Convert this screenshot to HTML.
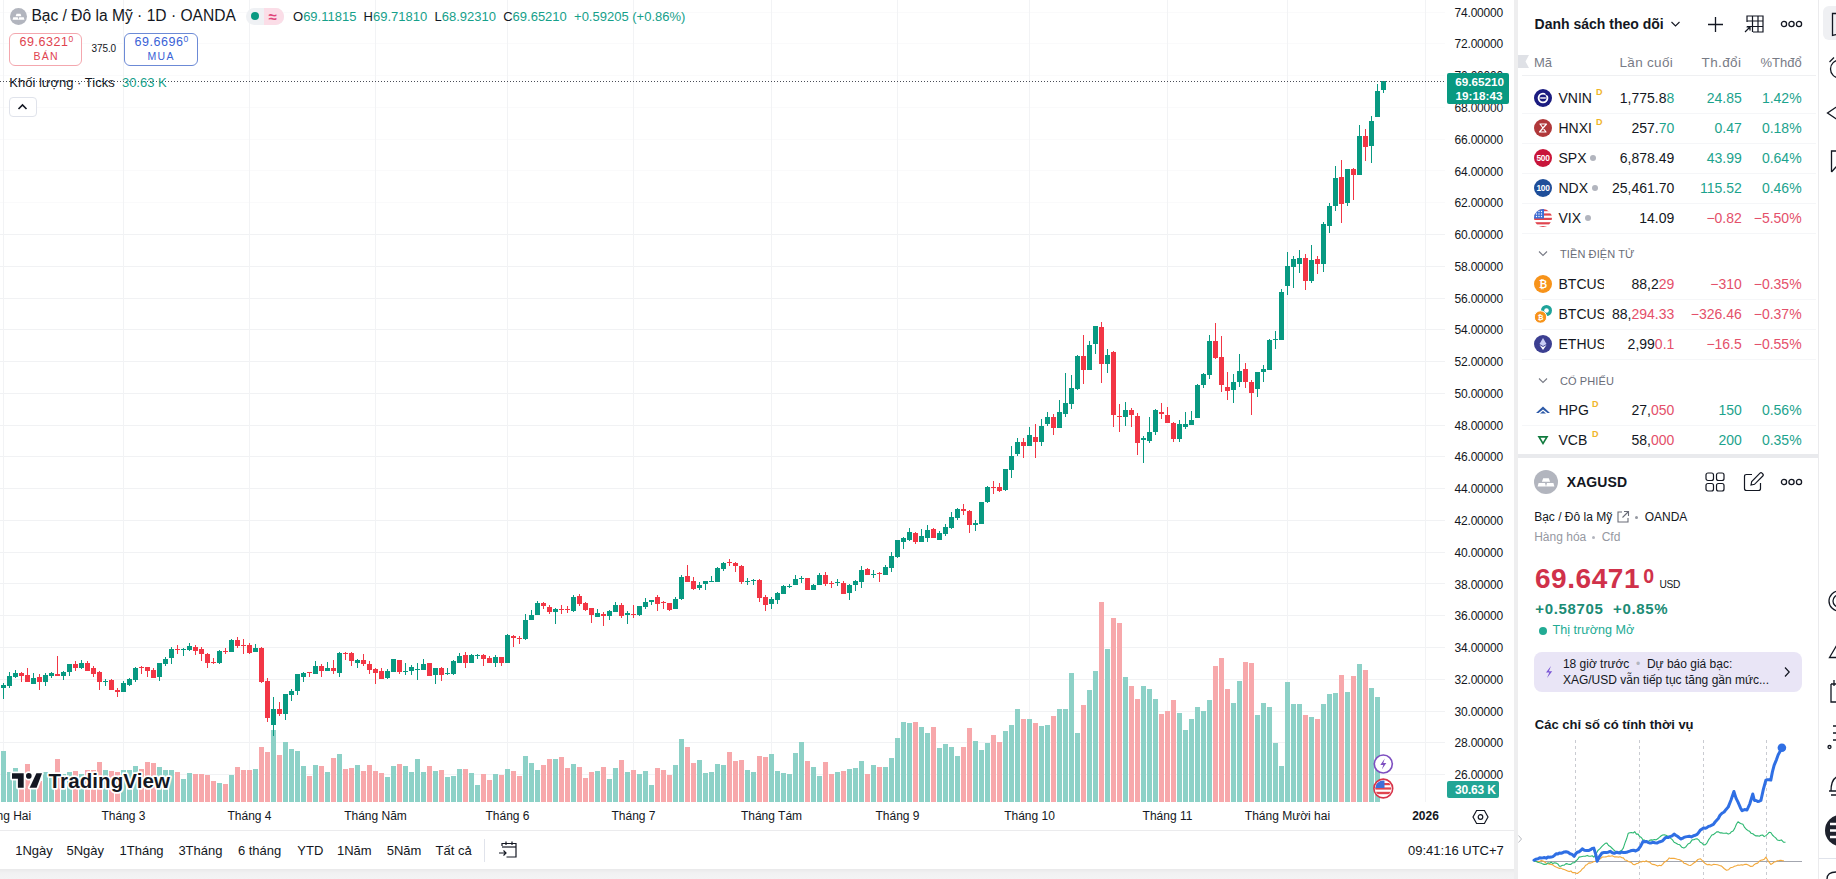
<!DOCTYPE html>
<html lang="vi"><head><meta charset="utf-8"><title>XAGUSD</title>
<style>
*{box-sizing:border-box;margin:0;padding:0}
html,body{width:1836px;height:879px;overflow:hidden;background:#fff}
body{font-family:"Liberation Sans",Arial,sans-serif;color:#131722}
#root{position:relative;width:1836px;height:879px;overflow:hidden;background:#fff}
.abs{position:absolute}
.t{position:absolute;white-space:nowrap;line-height:1}
#paxis{position:absolute;left:1445px;top:0;width:69px;height:802px}
.pl{position:absolute;right:11px;font-size:12px;line-height:14px;color:#131722;letter-spacing:-0.2px}
#taxis{position:absolute;left:0;top:802px;width:1445px;height:28px}
.tl{position:absolute;top:7.3px;width:120px;text-align:center;font-size:12px;line-height:14px;color:#131722}
.up{color:#15a08a}.dn{color:#e4506a}
.bx sup{font-size:8.5px;vertical-align:top;position:relative;top:-1px;letter-spacing:0}

</style></head><body>
<div id="root">
<svg class="abs" style="left:0;top:0" width="1445" height="802" viewBox="0 0 1445 802">
<g shape-rendering="crispEdges">
<line x1="0" x2="1445" y1="12.5" y2="12.5" stroke="#fafafb" stroke-width="1"/>
<line x1="0" x2="1445" y1="43.5" y2="43.5" stroke="#fafafb" stroke-width="1"/>
<line x1="0" x2="1445" y1="75.5" y2="75.5" stroke="#fafafb" stroke-width="1"/>
<line x1="0" x2="1445" y1="107.5" y2="107.5" stroke="#fafafb" stroke-width="1"/>
<line x1="0" x2="1445" y1="139.5" y2="139.5" stroke="#fafafb" stroke-width="1"/>
<line x1="0" x2="1445" y1="170.5" y2="170.5" stroke="#fafafb" stroke-width="1"/>
<line x1="0" x2="1445" y1="202.5" y2="202.5" stroke="#fafafb" stroke-width="1"/>
<line x1="0" x2="1445" y1="234.5" y2="234.5" stroke="#f1f2f4" stroke-width="1"/>
<line x1="0" x2="1445" y1="266.5" y2="266.5" stroke="#f1f2f4" stroke-width="1"/>
<line x1="0" x2="1445" y1="298.5" y2="298.5" stroke="#f1f2f4" stroke-width="1"/>
<line x1="0" x2="1445" y1="329.5" y2="329.5" stroke="#f1f2f4" stroke-width="1"/>
<line x1="0" x2="1445" y1="361.5" y2="361.5" stroke="#f1f2f4" stroke-width="1"/>
<line x1="0" x2="1445" y1="393.5" y2="393.5" stroke="#f1f2f4" stroke-width="1"/>
<line x1="0" x2="1445" y1="425.5" y2="425.5" stroke="#f1f2f4" stroke-width="1"/>
<line x1="0" x2="1445" y1="456.5" y2="456.5" stroke="#f1f2f4" stroke-width="1"/>
<line x1="0" x2="1445" y1="488.5" y2="488.5" stroke="#f1f2f4" stroke-width="1"/>
<line x1="0" x2="1445" y1="520.5" y2="520.5" stroke="#f1f2f4" stroke-width="1"/>
<line x1="0" x2="1445" y1="552.5" y2="552.5" stroke="#f1f2f4" stroke-width="1"/>
<line x1="0" x2="1445" y1="583.5" y2="583.5" stroke="#f1f2f4" stroke-width="1"/>
<line x1="0" x2="1445" y1="615.5" y2="615.5" stroke="#f1f2f4" stroke-width="1"/>
<line x1="0" x2="1445" y1="647.5" y2="647.5" stroke="#f1f2f4" stroke-width="1"/>
<line x1="0" x2="1445" y1="679.5" y2="679.5" stroke="#f1f2f4" stroke-width="1"/>
<line x1="0" x2="1445" y1="711.5" y2="711.5" stroke="#f1f2f4" stroke-width="1"/>
<line x1="0" x2="1445" y1="742.5" y2="742.5" stroke="#f1f2f4" stroke-width="1"/>
<line x1="0" x2="1445" y1="774.5" y2="774.5" stroke="#f1f2f4" stroke-width="1"/>
<line x1="3.5" x2="3.5" y1="0" y2="802" stroke="#f2f3f5" stroke-width="1"/>
<line x1="123.5" x2="123.5" y1="0" y2="802" stroke="#f2f3f5" stroke-width="1"/>
<line x1="249.5" x2="249.5" y1="0" y2="802" stroke="#f2f3f5" stroke-width="1"/>
<line x1="375.5" x2="375.5" y1="0" y2="802" stroke="#f2f3f5" stroke-width="1"/>
<line x1="507.5" x2="507.5" y1="0" y2="802" stroke="#f2f3f5" stroke-width="1"/>
<line x1="633.5" x2="633.5" y1="0" y2="802" stroke="#f2f3f5" stroke-width="1"/>
<line x1="771.5" x2="771.5" y1="0" y2="802" stroke="#f2f3f5" stroke-width="1"/>
<line x1="897.5" x2="897.5" y1="0" y2="802" stroke="#f2f3f5" stroke-width="1"/>
<line x1="1029.5" x2="1029.5" y1="0" y2="802" stroke="#f2f3f5" stroke-width="1"/>
<line x1="1167.5" x2="1167.5" y1="0" y2="802" stroke="#f2f3f5" stroke-width="1"/>
<line x1="1287.5" x2="1287.5" y1="0" y2="802" stroke="#f2f3f5" stroke-width="1"/>
<line x1="1425.5" x2="1425.5" y1="0" y2="802" stroke="#f2f3f5" stroke-width="1"/>
<rect x="1" y="751" width="5" height="51" fill="#8dd1c7"/>
<rect x="7" y="772" width="5" height="30" fill="#8dd1c7"/>
<rect x="13" y="768" width="5" height="34" fill="#8dd1c7"/>
<rect x="19" y="785" width="5" height="17" fill="#f7a8ab"/>
<rect x="25" y="764" width="5" height="38" fill="#f7a8ab"/>
<rect x="31" y="780" width="5" height="22" fill="#8dd1c7"/>
<rect x="37" y="781" width="5" height="21" fill="#f7a8ab"/>
<rect x="43" y="772" width="5" height="30" fill="#8dd1c7"/>
<rect x="49" y="775" width="5" height="27" fill="#8dd1c7"/>
<rect x="55" y="759" width="5" height="43" fill="#f7a8ab"/>
<rect x="61" y="774" width="5" height="28" fill="#8dd1c7"/>
<rect x="67" y="772" width="5" height="30" fill="#8dd1c7"/>
<rect x="73" y="771" width="5" height="31" fill="#f7a8ab"/>
<rect x="79" y="774" width="5" height="28" fill="#8dd1c7"/>
<rect x="85" y="770" width="5" height="32" fill="#f7a8ab"/>
<rect x="91" y="770" width="5" height="32" fill="#f7a8ab"/>
<rect x="97" y="762" width="5" height="40" fill="#f7a8ab"/>
<rect x="103" y="770" width="5" height="32" fill="#8dd1c7"/>
<rect x="109" y="771" width="5" height="31" fill="#f7a8ab"/>
<rect x="115" y="772" width="5" height="30" fill="#f7a8ab"/>
<rect x="121" y="770" width="5" height="32" fill="#8dd1c7"/>
<rect x="127" y="770" width="5" height="32" fill="#8dd1c7"/>
<rect x="133" y="766" width="5" height="36" fill="#8dd1c7"/>
<rect x="139" y="769" width="5" height="33" fill="#f7a8ab"/>
<rect x="145" y="762" width="5" height="40" fill="#f7a8ab"/>
<rect x="151" y="763" width="5" height="39" fill="#f7a8ab"/>
<rect x="157" y="767" width="5" height="35" fill="#8dd1c7"/>
<rect x="163" y="770" width="5" height="32" fill="#8dd1c7"/>
<rect x="169" y="770" width="5" height="32" fill="#8dd1c7"/>
<rect x="175" y="772" width="5" height="30" fill="#f7a8ab"/>
<rect x="181" y="779" width="5" height="23" fill="#8dd1c7"/>
<rect x="187" y="773" width="5" height="29" fill="#8dd1c7"/>
<rect x="193" y="774" width="5" height="28" fill="#f7a8ab"/>
<rect x="199" y="774" width="5" height="28" fill="#f7a8ab"/>
<rect x="205" y="775" width="5" height="27" fill="#f7a8ab"/>
<rect x="211" y="781" width="5" height="21" fill="#f7a8ab"/>
<rect x="217" y="783" width="5" height="19" fill="#8dd1c7"/>
<rect x="223" y="784" width="5" height="18" fill="#f7a8ab"/>
<rect x="229" y="775" width="5" height="27" fill="#8dd1c7"/>
<rect x="235" y="767" width="5" height="35" fill="#f7a8ab"/>
<rect x="241" y="770" width="5" height="32" fill="#f7a8ab"/>
<rect x="247" y="770" width="5" height="32" fill="#f7a8ab"/>
<rect x="253" y="769" width="5" height="33" fill="#8dd1c7"/>
<rect x="259" y="747" width="5" height="55" fill="#f7a8ab"/>
<rect x="265" y="752" width="5" height="50" fill="#f7a8ab"/>
<rect x="271" y="730" width="5" height="72" fill="#8dd1c7"/>
<rect x="277" y="755" width="5" height="47" fill="#f7a8ab"/>
<rect x="283" y="742" width="5" height="60" fill="#8dd1c7"/>
<rect x="289" y="749" width="5" height="53" fill="#8dd1c7"/>
<rect x="295" y="751" width="5" height="51" fill="#8dd1c7"/>
<rect x="301" y="766" width="5" height="36" fill="#8dd1c7"/>
<rect x="307" y="776" width="5" height="26" fill="#f7a8ab"/>
<rect x="313" y="765" width="5" height="37" fill="#8dd1c7"/>
<rect x="319" y="766" width="5" height="36" fill="#f7a8ab"/>
<rect x="325" y="772" width="5" height="30" fill="#8dd1c7"/>
<rect x="331" y="758" width="5" height="44" fill="#f7a8ab"/>
<rect x="337" y="754" width="5" height="48" fill="#8dd1c7"/>
<rect x="343" y="769" width="5" height="33" fill="#f7a8ab"/>
<rect x="349" y="768" width="5" height="34" fill="#f7a8ab"/>
<rect x="355" y="765" width="5" height="37" fill="#8dd1c7"/>
<rect x="361" y="771" width="5" height="31" fill="#f7a8ab"/>
<rect x="367" y="765" width="5" height="37" fill="#f7a8ab"/>
<rect x="373" y="771" width="5" height="31" fill="#f7a8ab"/>
<rect x="379" y="773" width="5" height="29" fill="#f7a8ab"/>
<rect x="385" y="777" width="5" height="25" fill="#8dd1c7"/>
<rect x="391" y="766" width="5" height="36" fill="#8dd1c7"/>
<rect x="397" y="764" width="5" height="38" fill="#f7a8ab"/>
<rect x="403" y="766" width="5" height="36" fill="#8dd1c7"/>
<rect x="409" y="772" width="5" height="30" fill="#8dd1c7"/>
<rect x="415" y="759" width="5" height="43" fill="#8dd1c7"/>
<rect x="421" y="772" width="5" height="30" fill="#8dd1c7"/>
<rect x="427" y="766" width="5" height="36" fill="#f7a8ab"/>
<rect x="433" y="771" width="5" height="31" fill="#8dd1c7"/>
<rect x="439" y="770" width="5" height="32" fill="#f7a8ab"/>
<rect x="445" y="777" width="5" height="25" fill="#8dd1c7"/>
<rect x="451" y="776" width="5" height="26" fill="#8dd1c7"/>
<rect x="457" y="769" width="5" height="33" fill="#8dd1c7"/>
<rect x="463" y="769" width="5" height="33" fill="#f7a8ab"/>
<rect x="469" y="773" width="5" height="29" fill="#8dd1c7"/>
<rect x="475" y="785" width="5" height="17" fill="#8dd1c7"/>
<rect x="481" y="774" width="5" height="28" fill="#f7a8ab"/>
<rect x="487" y="780" width="5" height="22" fill="#f7a8ab"/>
<rect x="493" y="774" width="5" height="28" fill="#8dd1c7"/>
<rect x="499" y="775" width="5" height="27" fill="#f7a8ab"/>
<rect x="505" y="769" width="5" height="33" fill="#8dd1c7"/>
<rect x="511" y="771" width="5" height="31" fill="#f7a8ab"/>
<rect x="517" y="776" width="5" height="26" fill="#f7a8ab"/>
<rect x="523" y="756" width="5" height="46" fill="#8dd1c7"/>
<rect x="529" y="763" width="5" height="39" fill="#8dd1c7"/>
<rect x="535" y="770" width="5" height="32" fill="#8dd1c7"/>
<rect x="541" y="765" width="5" height="37" fill="#f7a8ab"/>
<rect x="547" y="759" width="5" height="43" fill="#f7a8ab"/>
<rect x="553" y="759" width="5" height="43" fill="#8dd1c7"/>
<rect x="559" y="757" width="5" height="45" fill="#f7a8ab"/>
<rect x="565" y="768" width="5" height="34" fill="#f7a8ab"/>
<rect x="571" y="764" width="5" height="38" fill="#8dd1c7"/>
<rect x="577" y="767" width="5" height="35" fill="#f7a8ab"/>
<rect x="583" y="778" width="5" height="24" fill="#f7a8ab"/>
<rect x="589" y="772" width="5" height="30" fill="#f7a8ab"/>
<rect x="595" y="771" width="5" height="31" fill="#8dd1c7"/>
<rect x="601" y="767" width="5" height="35" fill="#f7a8ab"/>
<rect x="607" y="779" width="5" height="23" fill="#8dd1c7"/>
<rect x="613" y="768" width="5" height="34" fill="#8dd1c7"/>
<rect x="619" y="760" width="5" height="42" fill="#f7a8ab"/>
<rect x="625" y="772" width="5" height="30" fill="#8dd1c7"/>
<rect x="631" y="770" width="5" height="32" fill="#f7a8ab"/>
<rect x="637" y="774" width="5" height="28" fill="#8dd1c7"/>
<rect x="643" y="771" width="5" height="31" fill="#8dd1c7"/>
<rect x="649" y="785" width="5" height="17" fill="#8dd1c7"/>
<rect x="655" y="768" width="5" height="34" fill="#f7a8ab"/>
<rect x="661" y="770" width="5" height="32" fill="#f7a8ab"/>
<rect x="667" y="775" width="5" height="27" fill="#f7a8ab"/>
<rect x="673" y="765" width="5" height="37" fill="#8dd1c7"/>
<rect x="679" y="739" width="5" height="63" fill="#8dd1c7"/>
<rect x="685" y="747" width="5" height="55" fill="#f7a8ab"/>
<rect x="691" y="763" width="5" height="39" fill="#f7a8ab"/>
<rect x="697" y="760" width="5" height="42" fill="#8dd1c7"/>
<rect x="703" y="773" width="5" height="29" fill="#8dd1c7"/>
<rect x="709" y="772" width="5" height="30" fill="#8dd1c7"/>
<rect x="715" y="764" width="5" height="38" fill="#8dd1c7"/>
<rect x="721" y="765" width="5" height="37" fill="#8dd1c7"/>
<rect x="727" y="752" width="5" height="50" fill="#f7a8ab"/>
<rect x="733" y="761" width="5" height="41" fill="#f7a8ab"/>
<rect x="739" y="760" width="5" height="42" fill="#f7a8ab"/>
<rect x="745" y="770" width="5" height="32" fill="#8dd1c7"/>
<rect x="751" y="772" width="5" height="30" fill="#8dd1c7"/>
<rect x="757" y="756" width="5" height="46" fill="#f7a8ab"/>
<rect x="763" y="757" width="5" height="45" fill="#f7a8ab"/>
<rect x="769" y="754" width="5" height="48" fill="#8dd1c7"/>
<rect x="775" y="771" width="5" height="31" fill="#8dd1c7"/>
<rect x="781" y="773" width="5" height="29" fill="#8dd1c7"/>
<rect x="787" y="774" width="5" height="28" fill="#8dd1c7"/>
<rect x="793" y="753" width="5" height="49" fill="#8dd1c7"/>
<rect x="799" y="742" width="5" height="60" fill="#8dd1c7"/>
<rect x="805" y="761" width="5" height="41" fill="#f7a8ab"/>
<rect x="811" y="767" width="5" height="35" fill="#8dd1c7"/>
<rect x="817" y="776" width="5" height="26" fill="#8dd1c7"/>
<rect x="823" y="762" width="5" height="40" fill="#f7a8ab"/>
<rect x="829" y="774" width="5" height="28" fill="#f7a8ab"/>
<rect x="835" y="772" width="5" height="30" fill="#8dd1c7"/>
<rect x="841" y="771" width="5" height="31" fill="#f7a8ab"/>
<rect x="847" y="769" width="5" height="33" fill="#8dd1c7"/>
<rect x="853" y="768" width="5" height="34" fill="#8dd1c7"/>
<rect x="859" y="761" width="5" height="41" fill="#8dd1c7"/>
<rect x="865" y="774" width="5" height="28" fill="#f7a8ab"/>
<rect x="871" y="765" width="5" height="37" fill="#8dd1c7"/>
<rect x="877" y="767" width="5" height="35" fill="#f7a8ab"/>
<rect x="883" y="767" width="5" height="35" fill="#8dd1c7"/>
<rect x="889" y="758" width="5" height="44" fill="#8dd1c7"/>
<rect x="895" y="738" width="5" height="64" fill="#8dd1c7"/>
<rect x="901" y="722" width="5" height="80" fill="#8dd1c7"/>
<rect x="907" y="723" width="5" height="79" fill="#8dd1c7"/>
<rect x="913" y="722" width="5" height="80" fill="#f7a8ab"/>
<rect x="919" y="727" width="5" height="75" fill="#8dd1c7"/>
<rect x="925" y="733" width="5" height="69" fill="#8dd1c7"/>
<rect x="931" y="727" width="5" height="75" fill="#f7a8ab"/>
<rect x="937" y="748" width="5" height="54" fill="#8dd1c7"/>
<rect x="943" y="744" width="5" height="58" fill="#8dd1c7"/>
<rect x="949" y="747" width="5" height="55" fill="#8dd1c7"/>
<rect x="955" y="756" width="5" height="46" fill="#8dd1c7"/>
<rect x="961" y="747" width="5" height="55" fill="#f7a8ab"/>
<rect x="967" y="728" width="5" height="74" fill="#f7a8ab"/>
<rect x="973" y="741" width="5" height="61" fill="#8dd1c7"/>
<rect x="979" y="750" width="5" height="52" fill="#8dd1c7"/>
<rect x="985" y="743" width="5" height="59" fill="#8dd1c7"/>
<rect x="991" y="735" width="5" height="67" fill="#f7a8ab"/>
<rect x="997" y="742" width="5" height="60" fill="#f7a8ab"/>
<rect x="1003" y="731" width="5" height="71" fill="#8dd1c7"/>
<rect x="1009" y="725" width="5" height="77" fill="#8dd1c7"/>
<rect x="1015" y="709" width="5" height="93" fill="#8dd1c7"/>
<rect x="1021" y="719" width="5" height="83" fill="#f7a8ab"/>
<rect x="1027" y="719" width="5" height="83" fill="#8dd1c7"/>
<rect x="1033" y="723" width="5" height="79" fill="#f7a8ab"/>
<rect x="1039" y="726" width="5" height="76" fill="#8dd1c7"/>
<rect x="1045" y="725" width="5" height="77" fill="#8dd1c7"/>
<rect x="1051" y="716" width="5" height="86" fill="#f7a8ab"/>
<rect x="1057" y="709" width="5" height="93" fill="#8dd1c7"/>
<rect x="1063" y="709" width="5" height="93" fill="#8dd1c7"/>
<rect x="1069" y="673" width="5" height="129" fill="#8dd1c7"/>
<rect x="1075" y="733" width="5" height="69" fill="#8dd1c7"/>
<rect x="1081" y="705" width="5" height="97" fill="#f7a8ab"/>
<rect x="1087" y="690" width="5" height="112" fill="#8dd1c7"/>
<rect x="1093" y="671" width="5" height="131" fill="#8dd1c7"/>
<rect x="1099" y="602" width="5" height="200" fill="#f7a8ab"/>
<rect x="1105" y="649" width="5" height="153" fill="#8dd1c7"/>
<rect x="1111" y="618" width="5" height="184" fill="#f7a8ab"/>
<rect x="1117" y="623" width="5" height="179" fill="#f7a8ab"/>
<rect x="1123" y="677" width="5" height="125" fill="#8dd1c7"/>
<rect x="1129" y="686" width="5" height="116" fill="#f7a8ab"/>
<rect x="1135" y="699" width="5" height="103" fill="#f7a8ab"/>
<rect x="1141" y="686" width="5" height="116" fill="#8dd1c7"/>
<rect x="1147" y="689" width="5" height="113" fill="#8dd1c7"/>
<rect x="1153" y="699" width="5" height="103" fill="#8dd1c7"/>
<rect x="1159" y="714" width="5" height="88" fill="#f7a8ab"/>
<rect x="1165" y="711" width="5" height="91" fill="#f7a8ab"/>
<rect x="1171" y="700" width="5" height="102" fill="#f7a8ab"/>
<rect x="1177" y="713" width="5" height="89" fill="#8dd1c7"/>
<rect x="1183" y="730" width="5" height="72" fill="#8dd1c7"/>
<rect x="1189" y="719" width="5" height="83" fill="#8dd1c7"/>
<rect x="1195" y="707" width="5" height="95" fill="#8dd1c7"/>
<rect x="1201" y="711" width="5" height="91" fill="#8dd1c7"/>
<rect x="1207" y="700" width="5" height="102" fill="#8dd1c7"/>
<rect x="1213" y="666" width="5" height="136" fill="#f7a8ab"/>
<rect x="1219" y="658" width="5" height="144" fill="#f7a8ab"/>
<rect x="1225" y="689" width="5" height="113" fill="#f7a8ab"/>
<rect x="1231" y="703" width="5" height="99" fill="#8dd1c7"/>
<rect x="1237" y="681" width="5" height="121" fill="#8dd1c7"/>
<rect x="1243" y="662" width="5" height="140" fill="#f7a8ab"/>
<rect x="1249" y="663" width="5" height="139" fill="#f7a8ab"/>
<rect x="1255" y="715" width="5" height="87" fill="#8dd1c7"/>
<rect x="1261" y="703" width="5" height="99" fill="#8dd1c7"/>
<rect x="1267" y="707" width="5" height="95" fill="#8dd1c7"/>
<rect x="1273" y="743" width="5" height="59" fill="#8dd1c7"/>
<rect x="1279" y="766" width="5" height="36" fill="#8dd1c7"/>
<rect x="1285" y="682" width="5" height="120" fill="#8dd1c7"/>
<rect x="1291" y="704" width="5" height="98" fill="#8dd1c7"/>
<rect x="1297" y="704" width="5" height="98" fill="#8dd1c7"/>
<rect x="1303" y="715" width="5" height="87" fill="#f7a8ab"/>
<rect x="1309" y="717" width="5" height="85" fill="#8dd1c7"/>
<rect x="1315" y="719" width="5" height="83" fill="#f7a8ab"/>
<rect x="1321" y="704" width="5" height="98" fill="#8dd1c7"/>
<rect x="1327" y="694" width="5" height="108" fill="#8dd1c7"/>
<rect x="1333" y="693" width="5" height="109" fill="#8dd1c7"/>
<rect x="1339" y="675" width="5" height="127" fill="#f7a8ab"/>
<rect x="1345" y="692" width="5" height="110" fill="#8dd1c7"/>
<rect x="1351" y="676" width="5" height="126" fill="#f7a8ab"/>
<rect x="1357" y="664" width="5" height="138" fill="#8dd1c7"/>
<rect x="1363" y="670" width="5" height="132" fill="#f7a8ab"/>
<rect x="1369" y="688" width="5" height="114" fill="#8dd1c7"/>
<rect x="1375" y="697" width="5" height="105" fill="#8dd1c7"/>
<rect x="3" y="683" width="1" height="16" fill="#089981"/>
<rect x="1" y="685" width="5" height="3" fill="#089981"/>
<rect x="9" y="672" width="1" height="16" fill="#089981"/>
<rect x="7" y="676" width="5" height="10" fill="#089981"/>
<rect x="15" y="670" width="1" height="8" fill="#089981"/>
<rect x="13" y="673" width="5" height="4" fill="#089981"/>
<rect x="21" y="672" width="1" height="10" fill="#f23645"/>
<rect x="19" y="673" width="5" height="3" fill="#f23645"/>
<rect x="27" y="668" width="1" height="14" fill="#f23645"/>
<rect x="25" y="675" width="5" height="7" fill="#f23645"/>
<rect x="33" y="673" width="1" height="11" fill="#089981"/>
<rect x="31" y="678" width="5" height="6" fill="#089981"/>
<rect x="39" y="674" width="1" height="16" fill="#f23645"/>
<rect x="37" y="677" width="5" height="5" fill="#f23645"/>
<rect x="45" y="673" width="1" height="13" fill="#089981"/>
<rect x="43" y="675" width="5" height="7" fill="#089981"/>
<rect x="51" y="672" width="1" height="6" fill="#089981"/>
<rect x="49" y="673" width="5" height="3" fill="#089981"/>
<rect x="57" y="656" width="1" height="20" fill="#f23645"/>
<rect x="55" y="674" width="5" height="2" fill="#f23645"/>
<rect x="63" y="671" width="1" height="9" fill="#089981"/>
<rect x="61" y="672" width="5" height="4" fill="#089981"/>
<rect x="69" y="664" width="1" height="12" fill="#089981"/>
<rect x="67" y="664" width="5" height="8" fill="#089981"/>
<rect x="75" y="661" width="1" height="10" fill="#f23645"/>
<rect x="73" y="664" width="5" height="4" fill="#f23645"/>
<rect x="81" y="660" width="1" height="9" fill="#089981"/>
<rect x="79" y="663" width="5" height="5" fill="#089981"/>
<rect x="87" y="661" width="1" height="10" fill="#f23645"/>
<rect x="85" y="663" width="5" height="8" fill="#f23645"/>
<rect x="93" y="666" width="1" height="11" fill="#f23645"/>
<rect x="91" y="668" width="5" height="6" fill="#f23645"/>
<rect x="99" y="671" width="1" height="19" fill="#f23645"/>
<rect x="97" y="672" width="5" height="10" fill="#f23645"/>
<rect x="105" y="679" width="1" height="7" fill="#089981"/>
<rect x="103" y="681" width="5" height="1" fill="#089981"/>
<rect x="111" y="679" width="1" height="11" fill="#f23645"/>
<rect x="109" y="680" width="5" height="10" fill="#f23645"/>
<rect x="117" y="688" width="1" height="9" fill="#f23645"/>
<rect x="115" y="690" width="5" height="2" fill="#f23645"/>
<rect x="123" y="681" width="1" height="11" fill="#089981"/>
<rect x="121" y="683" width="5" height="9" fill="#089981"/>
<rect x="129" y="678" width="1" height="8" fill="#089981"/>
<rect x="127" y="679" width="5" height="6" fill="#089981"/>
<rect x="135" y="667" width="1" height="15" fill="#089981"/>
<rect x="133" y="668" width="5" height="12" fill="#089981"/>
<rect x="141" y="666" width="1" height="8" fill="#f23645"/>
<rect x="139" y="667" width="5" height="1" fill="#f23645"/>
<rect x="147" y="667" width="1" height="10" fill="#f23645"/>
<rect x="145" y="667" width="5" height="4" fill="#f23645"/>
<rect x="153" y="668" width="1" height="10" fill="#f23645"/>
<rect x="151" y="670" width="5" height="8" fill="#f23645"/>
<rect x="159" y="663" width="1" height="18" fill="#089981"/>
<rect x="157" y="663" width="5" height="14" fill="#089981"/>
<rect x="165" y="657" width="1" height="9" fill="#089981"/>
<rect x="163" y="659" width="5" height="5" fill="#089981"/>
<rect x="171" y="647" width="1" height="17" fill="#089981"/>
<rect x="169" y="649" width="5" height="9" fill="#089981"/>
<rect x="177" y="645" width="1" height="9" fill="#f23645"/>
<rect x="175" y="649" width="5" height="1" fill="#f23645"/>
<rect x="183" y="648" width="1" height="8" fill="#089981"/>
<rect x="181" y="649" width="5" height="1" fill="#089981"/>
<rect x="189" y="643" width="1" height="8" fill="#089981"/>
<rect x="187" y="646" width="5" height="4" fill="#089981"/>
<rect x="195" y="645" width="1" height="10" fill="#f23645"/>
<rect x="193" y="647" width="5" height="4" fill="#f23645"/>
<rect x="201" y="647" width="1" height="14" fill="#f23645"/>
<rect x="199" y="649" width="5" height="5" fill="#f23645"/>
<rect x="207" y="653" width="1" height="15" fill="#f23645"/>
<rect x="205" y="654" width="5" height="9" fill="#f23645"/>
<rect x="213" y="658" width="1" height="6" fill="#f23645"/>
<rect x="211" y="662" width="5" height="1" fill="#f23645"/>
<rect x="219" y="650" width="1" height="14" fill="#089981"/>
<rect x="217" y="651" width="5" height="12" fill="#089981"/>
<rect x="225" y="648" width="1" height="6" fill="#f23645"/>
<rect x="223" y="651" width="5" height="1" fill="#f23645"/>
<rect x="231" y="639" width="1" height="13" fill="#089981"/>
<rect x="229" y="640" width="5" height="12" fill="#089981"/>
<rect x="237" y="637" width="1" height="11" fill="#f23645"/>
<rect x="235" y="640" width="5" height="6" fill="#f23645"/>
<rect x="243" y="639" width="1" height="15" fill="#f23645"/>
<rect x="241" y="645" width="5" height="1" fill="#f23645"/>
<rect x="249" y="643" width="1" height="11" fill="#f23645"/>
<rect x="247" y="645" width="5" height="8" fill="#f23645"/>
<rect x="255" y="644" width="1" height="8" fill="#089981"/>
<rect x="253" y="648" width="5" height="4" fill="#089981"/>
<rect x="261" y="647" width="1" height="36" fill="#f23645"/>
<rect x="259" y="648" width="5" height="34" fill="#f23645"/>
<rect x="267" y="678" width="1" height="44" fill="#f23645"/>
<rect x="265" y="681" width="5" height="37" fill="#f23645"/>
<rect x="273" y="697" width="1" height="39" fill="#089981"/>
<rect x="271" y="709" width="5" height="16" fill="#089981"/>
<rect x="279" y="702" width="1" height="14" fill="#f23645"/>
<rect x="277" y="709" width="5" height="5" fill="#f23645"/>
<rect x="285" y="694" width="1" height="26" fill="#089981"/>
<rect x="283" y="694" width="5" height="20" fill="#089981"/>
<rect x="291" y="689" width="1" height="12" fill="#089981"/>
<rect x="289" y="691" width="5" height="4" fill="#089981"/>
<rect x="297" y="674" width="1" height="21" fill="#089981"/>
<rect x="295" y="674" width="5" height="17" fill="#089981"/>
<rect x="303" y="672" width="1" height="10" fill="#089981"/>
<rect x="301" y="673" width="5" height="4" fill="#089981"/>
<rect x="309" y="672" width="1" height="5" fill="#f23645"/>
<rect x="307" y="672" width="5" height="1" fill="#f23645"/>
<rect x="315" y="661" width="1" height="13" fill="#089981"/>
<rect x="313" y="666" width="5" height="8" fill="#089981"/>
<rect x="321" y="664" width="1" height="13" fill="#f23645"/>
<rect x="319" y="666" width="5" height="5" fill="#f23645"/>
<rect x="327" y="662" width="1" height="9" fill="#089981"/>
<rect x="325" y="668" width="5" height="3" fill="#089981"/>
<rect x="333" y="660" width="1" height="14" fill="#f23645"/>
<rect x="331" y="668" width="5" height="3" fill="#f23645"/>
<rect x="339" y="652" width="1" height="25" fill="#089981"/>
<rect x="337" y="653" width="5" height="20" fill="#089981"/>
<rect x="345" y="652" width="1" height="8" fill="#f23645"/>
<rect x="343" y="653" width="5" height="1" fill="#f23645"/>
<rect x="351" y="652" width="1" height="14" fill="#f23645"/>
<rect x="349" y="653" width="5" height="8" fill="#f23645"/>
<rect x="357" y="659" width="1" height="9" fill="#089981"/>
<rect x="355" y="660" width="5" height="3" fill="#089981"/>
<rect x="363" y="654" width="1" height="12" fill="#f23645"/>
<rect x="361" y="660" width="5" height="4" fill="#f23645"/>
<rect x="369" y="661" width="1" height="13" fill="#f23645"/>
<rect x="367" y="664" width="5" height="6" fill="#f23645"/>
<rect x="375" y="668" width="1" height="16" fill="#f23645"/>
<rect x="373" y="669" width="5" height="4" fill="#f23645"/>
<rect x="381" y="668" width="1" height="11" fill="#f23645"/>
<rect x="379" y="671" width="5" height="8" fill="#f23645"/>
<rect x="387" y="669" width="1" height="10" fill="#089981"/>
<rect x="385" y="671" width="5" height="7" fill="#089981"/>
<rect x="393" y="659" width="1" height="13" fill="#089981"/>
<rect x="391" y="659" width="5" height="13" fill="#089981"/>
<rect x="399" y="660" width="1" height="14" fill="#f23645"/>
<rect x="397" y="660" width="5" height="12" fill="#f23645"/>
<rect x="405" y="663" width="1" height="12" fill="#089981"/>
<rect x="403" y="671" width="5" height="1" fill="#089981"/>
<rect x="411" y="665" width="1" height="10" fill="#089981"/>
<rect x="409" y="667" width="5" height="4" fill="#089981"/>
<rect x="417" y="663" width="1" height="17" fill="#089981"/>
<rect x="415" y="669" width="5" height="1" fill="#089981"/>
<rect x="423" y="659" width="1" height="11" fill="#089981"/>
<rect x="421" y="664" width="5" height="6" fill="#089981"/>
<rect x="429" y="663" width="1" height="13" fill="#f23645"/>
<rect x="427" y="663" width="5" height="13" fill="#f23645"/>
<rect x="435" y="668" width="1" height="16" fill="#089981"/>
<rect x="433" y="668" width="5" height="7" fill="#089981"/>
<rect x="441" y="667" width="1" height="14" fill="#f23645"/>
<rect x="439" y="668" width="5" height="7" fill="#f23645"/>
<rect x="447" y="668" width="1" height="7" fill="#089981"/>
<rect x="445" y="673" width="5" height="1" fill="#089981"/>
<rect x="453" y="660" width="1" height="15" fill="#089981"/>
<rect x="451" y="661" width="5" height="13" fill="#089981"/>
<rect x="459" y="653" width="1" height="10" fill="#089981"/>
<rect x="457" y="656" width="5" height="7" fill="#089981"/>
<rect x="465" y="652" width="1" height="16" fill="#f23645"/>
<rect x="463" y="655" width="5" height="8" fill="#f23645"/>
<rect x="471" y="654" width="1" height="9" fill="#089981"/>
<rect x="469" y="655" width="5" height="8" fill="#089981"/>
<rect x="477" y="654" width="1" height="5" fill="#089981"/>
<rect x="475" y="655" width="5" height="1" fill="#089981"/>
<rect x="483" y="654" width="1" height="12" fill="#f23645"/>
<rect x="481" y="655" width="5" height="4" fill="#f23645"/>
<rect x="489" y="656" width="1" height="7" fill="#f23645"/>
<rect x="487" y="658" width="5" height="5" fill="#f23645"/>
<rect x="495" y="655" width="1" height="12" fill="#089981"/>
<rect x="493" y="657" width="5" height="6" fill="#089981"/>
<rect x="501" y="657" width="1" height="9" fill="#f23645"/>
<rect x="499" y="657" width="5" height="6" fill="#f23645"/>
<rect x="507" y="634" width="1" height="29" fill="#089981"/>
<rect x="505" y="635" width="5" height="28" fill="#089981"/>
<rect x="513" y="635" width="1" height="12" fill="#f23645"/>
<rect x="511" y="636" width="5" height="2" fill="#f23645"/>
<rect x="519" y="636" width="1" height="8" fill="#f23645"/>
<rect x="517" y="638" width="5" height="1" fill="#f23645"/>
<rect x="525" y="614" width="1" height="26" fill="#089981"/>
<rect x="523" y="620" width="5" height="19" fill="#089981"/>
<rect x="531" y="610" width="1" height="10" fill="#089981"/>
<rect x="529" y="615" width="5" height="5" fill="#089981"/>
<rect x="537" y="601" width="1" height="14" fill="#089981"/>
<rect x="535" y="603" width="5" height="12" fill="#089981"/>
<rect x="543" y="602" width="1" height="7" fill="#f23645"/>
<rect x="541" y="603" width="5" height="3" fill="#f23645"/>
<rect x="549" y="605" width="1" height="9" fill="#f23645"/>
<rect x="547" y="607" width="5" height="5" fill="#f23645"/>
<rect x="555" y="608" width="1" height="16" fill="#089981"/>
<rect x="553" y="609" width="5" height="3" fill="#089981"/>
<rect x="561" y="605" width="1" height="9" fill="#f23645"/>
<rect x="559" y="609" width="5" height="1" fill="#f23645"/>
<rect x="567" y="606" width="1" height="7" fill="#f23645"/>
<rect x="565" y="609" width="5" height="1" fill="#f23645"/>
<rect x="573" y="595" width="1" height="17" fill="#089981"/>
<rect x="571" y="597" width="5" height="14" fill="#089981"/>
<rect x="579" y="594" width="1" height="12" fill="#f23645"/>
<rect x="577" y="596" width="5" height="8" fill="#f23645"/>
<rect x="585" y="602" width="1" height="9" fill="#f23645"/>
<rect x="583" y="603" width="5" height="7" fill="#f23645"/>
<rect x="591" y="608" width="1" height="15" fill="#f23645"/>
<rect x="589" y="608" width="5" height="7" fill="#f23645"/>
<rect x="597" y="609" width="1" height="8" fill="#089981"/>
<rect x="595" y="613" width="5" height="4" fill="#089981"/>
<rect x="603" y="612" width="1" height="14" fill="#f23645"/>
<rect x="601" y="614" width="5" height="2" fill="#f23645"/>
<rect x="609" y="610" width="1" height="10" fill="#089981"/>
<rect x="607" y="611" width="5" height="5" fill="#089981"/>
<rect x="615" y="602" width="1" height="10" fill="#089981"/>
<rect x="613" y="605" width="5" height="7" fill="#089981"/>
<rect x="621" y="603" width="1" height="15" fill="#f23645"/>
<rect x="619" y="605" width="5" height="11" fill="#f23645"/>
<rect x="627" y="611" width="1" height="13" fill="#089981"/>
<rect x="625" y="613" width="5" height="2" fill="#089981"/>
<rect x="633" y="605" width="1" height="13" fill="#f23645"/>
<rect x="631" y="614" width="5" height="1" fill="#f23645"/>
<rect x="639" y="606" width="1" height="10" fill="#089981"/>
<rect x="637" y="606" width="5" height="9" fill="#089981"/>
<rect x="645" y="598" width="1" height="11" fill="#089981"/>
<rect x="643" y="602" width="5" height="5" fill="#089981"/>
<rect x="651" y="600" width="1" height="5" fill="#089981"/>
<rect x="649" y="600" width="5" height="2" fill="#089981"/>
<rect x="657" y="595" width="1" height="16" fill="#f23645"/>
<rect x="655" y="597" width="5" height="7" fill="#f23645"/>
<rect x="663" y="601" width="1" height="8" fill="#f23645"/>
<rect x="661" y="602" width="5" height="1" fill="#f23645"/>
<rect x="669" y="603" width="1" height="8" fill="#f23645"/>
<rect x="667" y="603" width="5" height="7" fill="#f23645"/>
<rect x="675" y="597" width="1" height="12" fill="#089981"/>
<rect x="673" y="599" width="5" height="10" fill="#089981"/>
<rect x="681" y="575" width="1" height="25" fill="#089981"/>
<rect x="679" y="577" width="5" height="22" fill="#089981"/>
<rect x="687" y="565" width="1" height="17" fill="#f23645"/>
<rect x="685" y="576" width="5" height="6" fill="#f23645"/>
<rect x="693" y="577" width="1" height="13" fill="#f23645"/>
<rect x="691" y="581" width="5" height="8" fill="#f23645"/>
<rect x="699" y="582" width="1" height="8" fill="#089981"/>
<rect x="697" y="585" width="5" height="3" fill="#089981"/>
<rect x="705" y="581" width="1" height="9" fill="#089981"/>
<rect x="703" y="581" width="5" height="3" fill="#089981"/>
<rect x="711" y="576" width="1" height="6" fill="#089981"/>
<rect x="709" y="581" width="5" height="1" fill="#089981"/>
<rect x="717" y="567" width="1" height="15" fill="#089981"/>
<rect x="715" y="568" width="5" height="14" fill="#089981"/>
<rect x="723" y="562" width="1" height="9" fill="#089981"/>
<rect x="721" y="563" width="5" height="6" fill="#089981"/>
<rect x="729" y="559" width="1" height="7" fill="#f23645"/>
<rect x="727" y="562" width="5" height="1" fill="#f23645"/>
<rect x="735" y="562" width="1" height="10" fill="#f23645"/>
<rect x="733" y="563" width="5" height="3" fill="#f23645"/>
<rect x="741" y="565" width="1" height="19" fill="#f23645"/>
<rect x="739" y="566" width="5" height="16" fill="#f23645"/>
<rect x="747" y="578" width="1" height="7" fill="#089981"/>
<rect x="745" y="581" width="5" height="1" fill="#089981"/>
<rect x="753" y="579" width="1" height="6" fill="#089981"/>
<rect x="751" y="580" width="5" height="1" fill="#089981"/>
<rect x="759" y="579" width="1" height="23" fill="#f23645"/>
<rect x="757" y="580" width="5" height="18" fill="#f23645"/>
<rect x="765" y="595" width="1" height="16" fill="#f23645"/>
<rect x="763" y="597" width="5" height="8" fill="#f23645"/>
<rect x="771" y="597" width="1" height="12" fill="#089981"/>
<rect x="769" y="599" width="5" height="5" fill="#089981"/>
<rect x="777" y="592" width="1" height="12" fill="#089981"/>
<rect x="775" y="593" width="5" height="7" fill="#089981"/>
<rect x="783" y="585" width="1" height="9" fill="#089981"/>
<rect x="781" y="586" width="5" height="8" fill="#089981"/>
<rect x="789" y="584" width="1" height="4" fill="#089981"/>
<rect x="787" y="586" width="5" height="1" fill="#089981"/>
<rect x="795" y="575" width="1" height="10" fill="#089981"/>
<rect x="793" y="579" width="5" height="6" fill="#089981"/>
<rect x="801" y="576" width="1" height="7" fill="#089981"/>
<rect x="799" y="578" width="5" height="1" fill="#089981"/>
<rect x="807" y="578" width="1" height="12" fill="#f23645"/>
<rect x="805" y="578" width="5" height="12" fill="#f23645"/>
<rect x="813" y="584" width="1" height="6" fill="#089981"/>
<rect x="811" y="585" width="5" height="5" fill="#089981"/>
<rect x="819" y="573" width="1" height="12" fill="#089981"/>
<rect x="817" y="575" width="5" height="10" fill="#089981"/>
<rect x="825" y="572" width="1" height="14" fill="#f23645"/>
<rect x="823" y="575" width="5" height="9" fill="#f23645"/>
<rect x="831" y="581" width="1" height="7" fill="#f23645"/>
<rect x="829" y="583" width="5" height="1" fill="#f23645"/>
<rect x="837" y="579" width="1" height="7" fill="#089981"/>
<rect x="835" y="582" width="5" height="1" fill="#089981"/>
<rect x="843" y="581" width="1" height="13" fill="#f23645"/>
<rect x="841" y="583" width="5" height="11" fill="#f23645"/>
<rect x="849" y="584" width="1" height="16" fill="#089981"/>
<rect x="847" y="585" width="5" height="8" fill="#089981"/>
<rect x="855" y="580" width="1" height="11" fill="#089981"/>
<rect x="853" y="581" width="5" height="4" fill="#089981"/>
<rect x="861" y="566" width="1" height="22" fill="#089981"/>
<rect x="859" y="570" width="5" height="12" fill="#089981"/>
<rect x="867" y="568" width="1" height="7" fill="#f23645"/>
<rect x="865" y="569" width="5" height="6" fill="#f23645"/>
<rect x="873" y="570" width="1" height="8" fill="#089981"/>
<rect x="871" y="574" width="5" height="1" fill="#089981"/>
<rect x="879" y="572" width="1" height="10" fill="#f23645"/>
<rect x="877" y="573" width="5" height="1" fill="#f23645"/>
<rect x="885" y="565" width="1" height="10" fill="#089981"/>
<rect x="883" y="567" width="5" height="8" fill="#089981"/>
<rect x="891" y="552" width="1" height="20" fill="#089981"/>
<rect x="889" y="556" width="5" height="12" fill="#089981"/>
<rect x="897" y="540" width="1" height="18" fill="#089981"/>
<rect x="895" y="540" width="5" height="17" fill="#089981"/>
<rect x="903" y="537" width="1" height="12" fill="#089981"/>
<rect x="901" y="538" width="5" height="4" fill="#089981"/>
<rect x="909" y="528" width="1" height="13" fill="#089981"/>
<rect x="907" y="532" width="5" height="8" fill="#089981"/>
<rect x="915" y="532" width="1" height="12" fill="#f23645"/>
<rect x="913" y="533" width="5" height="9" fill="#f23645"/>
<rect x="921" y="529" width="1" height="13" fill="#089981"/>
<rect x="919" y="536" width="5" height="6" fill="#089981"/>
<rect x="927" y="525" width="1" height="17" fill="#089981"/>
<rect x="925" y="530" width="5" height="8" fill="#089981"/>
<rect x="933" y="528" width="1" height="10" fill="#f23645"/>
<rect x="931" y="529" width="5" height="9" fill="#f23645"/>
<rect x="939" y="531" width="1" height="9" fill="#089981"/>
<rect x="937" y="533" width="5" height="7" fill="#089981"/>
<rect x="945" y="524" width="1" height="12" fill="#089981"/>
<rect x="943" y="527" width="5" height="7" fill="#089981"/>
<rect x="951" y="512" width="1" height="17" fill="#089981"/>
<rect x="949" y="517" width="5" height="11" fill="#089981"/>
<rect x="957" y="508" width="1" height="12" fill="#089981"/>
<rect x="955" y="509" width="5" height="9" fill="#089981"/>
<rect x="963" y="504" width="1" height="11" fill="#f23645"/>
<rect x="961" y="509" width="5" height="2" fill="#f23645"/>
<rect x="969" y="510" width="1" height="23" fill="#f23645"/>
<rect x="967" y="511" width="5" height="14" fill="#f23645"/>
<rect x="975" y="520" width="1" height="11" fill="#089981"/>
<rect x="973" y="523" width="5" height="2" fill="#089981"/>
<rect x="981" y="502" width="1" height="22" fill="#089981"/>
<rect x="979" y="502" width="5" height="22" fill="#089981"/>
<rect x="987" y="486" width="1" height="17" fill="#089981"/>
<rect x="985" y="487" width="5" height="15" fill="#089981"/>
<rect x="993" y="481" width="1" height="13" fill="#f23645"/>
<rect x="991" y="487" width="5" height="1" fill="#f23645"/>
<rect x="999" y="483" width="1" height="9" fill="#f23645"/>
<rect x="997" y="487" width="5" height="4" fill="#f23645"/>
<rect x="1005" y="469" width="1" height="22" fill="#089981"/>
<rect x="1003" y="469" width="5" height="21" fill="#089981"/>
<rect x="1011" y="446" width="1" height="32" fill="#089981"/>
<rect x="1009" y="456" width="5" height="14" fill="#089981"/>
<rect x="1017" y="438" width="1" height="18" fill="#089981"/>
<rect x="1015" y="442" width="5" height="12" fill="#089981"/>
<rect x="1023" y="438" width="1" height="20" fill="#f23645"/>
<rect x="1021" y="442" width="5" height="4" fill="#f23645"/>
<rect x="1029" y="427" width="1" height="19" fill="#089981"/>
<rect x="1027" y="435" width="5" height="11" fill="#089981"/>
<rect x="1035" y="424" width="1" height="34" fill="#f23645"/>
<rect x="1033" y="437" width="5" height="5" fill="#f23645"/>
<rect x="1041" y="419" width="1" height="27" fill="#089981"/>
<rect x="1039" y="426" width="5" height="16" fill="#089981"/>
<rect x="1047" y="412" width="1" height="14" fill="#089981"/>
<rect x="1045" y="417" width="5" height="7" fill="#089981"/>
<rect x="1053" y="414" width="1" height="21" fill="#f23645"/>
<rect x="1051" y="417" width="5" height="11" fill="#f23645"/>
<rect x="1059" y="400" width="1" height="28" fill="#089981"/>
<rect x="1057" y="412" width="5" height="16" fill="#089981"/>
<rect x="1065" y="373" width="1" height="44" fill="#089981"/>
<rect x="1063" y="403" width="5" height="11" fill="#089981"/>
<rect x="1071" y="375" width="1" height="34" fill="#089981"/>
<rect x="1069" y="388" width="5" height="16" fill="#089981"/>
<rect x="1077" y="355" width="1" height="35" fill="#089981"/>
<rect x="1075" y="356" width="5" height="33" fill="#089981"/>
<rect x="1083" y="335" width="1" height="49" fill="#f23645"/>
<rect x="1081" y="356" width="5" height="14" fill="#f23645"/>
<rect x="1089" y="341" width="1" height="29" fill="#089981"/>
<rect x="1087" y="345" width="5" height="25" fill="#089981"/>
<rect x="1095" y="326" width="1" height="28" fill="#089981"/>
<rect x="1093" y="326" width="5" height="18" fill="#089981"/>
<rect x="1101" y="322" width="1" height="61" fill="#f23645"/>
<rect x="1099" y="327" width="5" height="37" fill="#f23645"/>
<rect x="1107" y="349" width="1" height="24" fill="#089981"/>
<rect x="1105" y="355" width="5" height="9" fill="#089981"/>
<rect x="1113" y="351" width="1" height="76" fill="#f23645"/>
<rect x="1111" y="352" width="5" height="63" fill="#f23645"/>
<rect x="1119" y="404" width="1" height="28" fill="#f23645"/>
<rect x="1117" y="416" width="5" height="1" fill="#f23645"/>
<rect x="1125" y="402" width="1" height="24" fill="#089981"/>
<rect x="1123" y="410" width="5" height="7" fill="#089981"/>
<rect x="1131" y="408" width="1" height="19" fill="#f23645"/>
<rect x="1129" y="410" width="5" height="5" fill="#f23645"/>
<rect x="1137" y="413" width="1" height="42" fill="#f23645"/>
<rect x="1135" y="416" width="5" height="27" fill="#f23645"/>
<rect x="1143" y="436" width="1" height="27" fill="#089981"/>
<rect x="1141" y="438" width="5" height="2" fill="#089981"/>
<rect x="1149" y="417" width="1" height="26" fill="#089981"/>
<rect x="1147" y="432" width="5" height="9" fill="#089981"/>
<rect x="1155" y="409" width="1" height="26" fill="#089981"/>
<rect x="1153" y="410" width="5" height="22" fill="#089981"/>
<rect x="1161" y="403" width="1" height="16" fill="#f23645"/>
<rect x="1159" y="412" width="5" height="2" fill="#f23645"/>
<rect x="1167" y="407" width="1" height="16" fill="#f23645"/>
<rect x="1165" y="415" width="5" height="8" fill="#f23645"/>
<rect x="1173" y="422" width="1" height="20" fill="#f23645"/>
<rect x="1171" y="423" width="5" height="16" fill="#f23645"/>
<rect x="1179" y="420" width="1" height="22" fill="#089981"/>
<rect x="1177" y="424" width="5" height="15" fill="#089981"/>
<rect x="1185" y="412" width="1" height="17" fill="#089981"/>
<rect x="1183" y="424" width="5" height="3" fill="#089981"/>
<rect x="1191" y="411" width="1" height="14" fill="#089981"/>
<rect x="1189" y="420" width="5" height="5" fill="#089981"/>
<rect x="1197" y="384" width="1" height="34" fill="#089981"/>
<rect x="1195" y="385" width="5" height="33" fill="#089981"/>
<rect x="1203" y="373" width="1" height="15" fill="#089981"/>
<rect x="1201" y="374" width="5" height="11" fill="#089981"/>
<rect x="1209" y="335" width="1" height="44" fill="#089981"/>
<rect x="1207" y="341" width="5" height="34" fill="#089981"/>
<rect x="1215" y="323" width="1" height="36" fill="#f23645"/>
<rect x="1213" y="341" width="5" height="17" fill="#f23645"/>
<rect x="1221" y="336" width="1" height="56" fill="#f23645"/>
<rect x="1219" y="357" width="5" height="28" fill="#f23645"/>
<rect x="1227" y="372" width="1" height="28" fill="#f23645"/>
<rect x="1225" y="387" width="5" height="4" fill="#f23645"/>
<rect x="1233" y="374" width="1" height="29" fill="#089981"/>
<rect x="1231" y="382" width="5" height="8" fill="#089981"/>
<rect x="1239" y="354" width="1" height="33" fill="#089981"/>
<rect x="1237" y="371" width="5" height="11" fill="#089981"/>
<rect x="1245" y="363" width="1" height="25" fill="#f23645"/>
<rect x="1243" y="369" width="5" height="13" fill="#f23645"/>
<rect x="1251" y="380" width="1" height="35" fill="#f23645"/>
<rect x="1249" y="382" width="5" height="11" fill="#f23645"/>
<rect x="1257" y="372" width="1" height="25" fill="#089981"/>
<rect x="1255" y="372" width="5" height="17" fill="#089981"/>
<rect x="1263" y="365" width="1" height="17" fill="#089981"/>
<rect x="1261" y="369" width="5" height="3" fill="#089981"/>
<rect x="1269" y="339" width="1" height="31" fill="#089981"/>
<rect x="1267" y="340" width="5" height="30" fill="#089981"/>
<rect x="1275" y="331" width="1" height="18" fill="#089981"/>
<rect x="1273" y="339" width="5" height="1" fill="#089981"/>
<rect x="1281" y="289" width="1" height="51" fill="#089981"/>
<rect x="1279" y="292" width="5" height="48" fill="#089981"/>
<rect x="1287" y="252" width="1" height="43" fill="#089981"/>
<rect x="1285" y="266" width="5" height="20" fill="#089981"/>
<rect x="1293" y="256" width="1" height="32" fill="#089981"/>
<rect x="1291" y="259" width="5" height="8" fill="#089981"/>
<rect x="1299" y="250" width="1" height="23" fill="#089981"/>
<rect x="1297" y="258" width="5" height="6" fill="#089981"/>
<rect x="1305" y="254" width="1" height="36" fill="#f23645"/>
<rect x="1303" y="258" width="5" height="23" fill="#f23645"/>
<rect x="1311" y="245" width="1" height="38" fill="#089981"/>
<rect x="1309" y="260" width="5" height="21" fill="#089981"/>
<rect x="1317" y="256" width="1" height="18" fill="#f23645"/>
<rect x="1315" y="259" width="5" height="5" fill="#f23645"/>
<rect x="1323" y="222" width="1" height="50" fill="#089981"/>
<rect x="1321" y="224" width="5" height="40" fill="#089981"/>
<rect x="1329" y="203" width="1" height="30" fill="#089981"/>
<rect x="1327" y="206" width="5" height="20" fill="#089981"/>
<rect x="1335" y="166" width="1" height="45" fill="#089981"/>
<rect x="1333" y="178" width="5" height="28" fill="#089981"/>
<rect x="1341" y="160" width="1" height="63" fill="#f23645"/>
<rect x="1339" y="177" width="5" height="27" fill="#f23645"/>
<rect x="1347" y="169" width="1" height="37" fill="#089981"/>
<rect x="1345" y="169" width="5" height="34" fill="#089981"/>
<rect x="1353" y="168" width="1" height="32" fill="#f23645"/>
<rect x="1351" y="169" width="5" height="6" fill="#f23645"/>
<rect x="1359" y="125" width="1" height="50" fill="#089981"/>
<rect x="1357" y="136" width="5" height="39" fill="#089981"/>
<rect x="1365" y="129" width="1" height="32" fill="#f23645"/>
<rect x="1363" y="136" width="5" height="11" fill="#f23645"/>
<rect x="1371" y="116" width="1" height="47" fill="#089981"/>
<rect x="1369" y="121" width="5" height="25" fill="#089981"/>
<rect x="1377" y="84" width="1" height="33" fill="#089981"/>
<rect x="1375" y="91" width="5" height="26" fill="#089981"/>
<rect x="1383" y="81" width="1" height="12" fill="#089981"/>
<rect x="1381" y="81" width="5" height="9" fill="#089981"/>
</g>
<line x1="0" x2="1445" y1="81.5" y2="81.5" stroke="#4a4d57" stroke-width="1" stroke-dasharray="1 2" shape-rendering="crispEdges"/>
</svg>
<svg class="abs" style="left:8px;top:768px" width="170" height="28" viewBox="8 768 170 28">
<g stroke="#fff" stroke-width="3.6" stroke-linejoin="round" paint-order="stroke">
<path d="M12 773.2H23.7V787.7H17.9V778.8H12Z" fill="#131722"/>
<circle cx="28.8" cy="775.9" r="2.8" fill="#131722"/>
<path d="M36.4 773.2H42L36.6 787.7H29.6Z" fill="#131722"/>
<text x="48.6" y="788" font-family="Liberation Sans, sans-serif" font-weight="700" font-size="20.5" letter-spacing="0.1" fill="#131722">TradingView</text>
</g></svg>
<div id="paxis">
<div class="pl" style="top:5.6px">74.00000</div>
<div class="pl" style="top:37.4px">72.00000</div>
<div class="pl" style="top:69.2px">70.00000</div>
<div class="pl" style="top:100.9px">68.00000</div>
<div class="pl" style="top:132.7px">66.00000</div>
<div class="pl" style="top:164.5px">64.00000</div>
<div class="pl" style="top:196.2px">62.00000</div>
<div class="pl" style="top:228.0px">60.00000</div>
<div class="pl" style="top:259.8px">58.00000</div>
<div class="pl" style="top:291.5px">56.00000</div>
<div class="pl" style="top:323.3px">54.00000</div>
<div class="pl" style="top:355.1px">52.00000</div>
<div class="pl" style="top:386.9px">50.00000</div>
<div class="pl" style="top:418.6px">48.00000</div>
<div class="pl" style="top:450.4px">46.00000</div>
<div class="pl" style="top:482.2px">44.00000</div>
<div class="pl" style="top:513.9px">42.00000</div>
<div class="pl" style="top:545.7px">40.00000</div>
<div class="pl" style="top:577.5px">38.00000</div>
<div class="pl" style="top:609.2px">36.00000</div>
<div class="pl" style="top:641.0px">34.00000</div>
<div class="pl" style="top:672.8px">32.00000</div>
<div class="pl" style="top:704.5px">30.00000</div>
<div class="pl" style="top:736.3px">28.00000</div>
<div class="pl" style="top:768.1px">26.00000</div>
</div>
<div id="taxis">
<div class="tl" style="left:-56.5px">Tháng Hai</div>
<div class="tl" style="left:63.5px">Tháng 3</div>
<div class="tl" style="left:189.5px">Tháng 4</div>
<div class="tl" style="left:315.5px">Tháng Năm</div>
<div class="tl" style="left:447.5px">Tháng 6</div>
<div class="tl" style="left:573.5px">Tháng 7</div>
<div class="tl" style="left:711.5px">Tháng Tám</div>
<div class="tl" style="left:837.5px">Tháng 9</div>
<div class="tl" style="left:969.5px">Tháng 10</div>
<div class="tl" style="left:1107.5px">Tháng 11</div>
<div class="tl" style="left:1227.5px">Tháng Mười hai</div>
<div class="tl" style="left:1365.5px;font-weight:700">2026</div>
</div>
<!-- separators -->
<div class="abs" style="left:1514px;top:0;width:4px;height:879px;background:#eeeeef"></div>
<div class="abs" style="left:0;top:830px;width:1514px;height:1px;background:#ebebed"></div>
<div class="abs" style="left:0;top:869px;width:1514px;height:10px;background:linear-gradient(#e9e9ea,#f1f1f2 40%,#f3f3f4)"></div>
<svg class="abs" style="left:1517px;top:834px" width="6" height="10" viewBox="0 0 6 10"><path d="M1.5 1.5L4.5 5L1.5 8.5" fill="none" stroke="#b8bac0" stroke-width="1"/></svg>

<svg class="abs" style="left:9.5px;top:7.5px" width="17" height="17" viewBox="0 0 24 24">
<circle cx="12" cy="12" r="12" fill="#b2b5be"/>
<path d="M9.2 8.2h5.6l1.3 3.6H7.9z M4.6 13h6.4l1 3.6H3.6z M13 13h6.4l1 3.6H12z" fill="#fff"/>
</svg>
<div class="t" style="left:31.4px;top:7.7px;font-size:15.6px;">Bạc / Đô la Mỹ · 1D · OANDA</div>
<div class="abs" style="left:245.5px;top:8px;width:38.5px;height:16.5px;border-radius:8.25px;overflow:hidden;background:#eff1f4"><div class="abs" style="left:18px;top:0;width:21px;height:17px;background:#fbdde7"></div><div class="abs" style="left:5.3px;top:4.2px;width:8px;height:8px;border-radius:50%;background:#089981"></div><div class="t" style="left:23px;top:1px;font-size:15px;color:#e0457b;font-weight:700">≈</div></div>
<div class="t" style="left:293.0px;top:9.7px;font-size:13px;">O<span class="up">69.11815</span>&nbsp;&nbsp;H<span class="up">69.71810</span>&nbsp;&nbsp;L<span class="up">68.92310</span>&nbsp;&nbsp;C<span class="up">69.65210</span>&nbsp;&nbsp;<span class="up">+0.59205 (+0.86%)</span></div>
<div class="abs" style="left:8.5px;top:32.5px;width:73px;height:33px;border:1px solid #f4a7ae;border-radius:6px;background:#fff"></div>
<div class="t bx" style="left:19.5px;top:35.6px;font-size:12.5px;color:#e0434f;letter-spacing:0.55px">69.6321<sup>0</sup></div>
<div class="t" style="left:33.5px;top:50.7px;font-size:10.5px;color:#e0434f;letter-spacing:1.3px">BÁN</div>
<div class="t" style="left:91.5px;top:43.8px;font-size:10px;color:#131722;letter-spacing:-0.1px">375.0</div>
<div class="abs" style="left:123.5px;top:32.5px;width:74px;height:33px;border:1px solid #6c8ad6;border-radius:6px;background:#fff"></div>
<div class="t bx" style="left:134.5px;top:35.6px;font-size:12.5px;color:#3a62d6;letter-spacing:0.55px">69.6696<sup>0</sup></div>
<div class="t" style="left:147.5px;top:50.7px;font-size:10.5px;color:#3a62d6;letter-spacing:1.3px">MUA</div>
<div class="t" style="left:9.3px;top:75.6px;font-size:13px;">Khối lượng · Ticks&nbsp;&nbsp;<span class="up">30.63 K</span></div>
<div class="abs" style="left:8.5px;top:97px;width:28px;height:20px;border:1px solid #e0e3eb;border-radius:4px;background:#fff"></div>
<svg class="abs" style="left:17px;top:102px" width="11" height="10" viewBox="0 0 11 10"><path d="M1.5 7L5.5 3L9.5 7" fill="none" stroke="#131722" stroke-width="1.6"/></svg>
<div class="abs" style="left:1447px;top:73px;width:62px;height:31px;background:#089981;border-radius:2px"></div>
<div class="t" style="left:1455.3px;top:76.2px;font-size:11.7px;color:#fff;font-weight:700">69.65210</div>
<div class="t" style="left:1455.6px;top:90.3px;font-size:11.7px;color:#fff;font-weight:700">19:18:43</div>
<div class="abs" style="left:1447px;top:781px;width:51.5px;height:17px;background:#22a595;border-radius:2px"></div>
<div class="t" style="left:1455.0px;top:783.8px;font-size:12px;color:#fff;font-weight:700;letter-spacing:-0.2px">30.63 K</div>
<svg class="abs" style="left:1372px;top:753px" width="24" height="48" viewBox="0 0 24 48">
<circle cx="11.3" cy="11" r="9" fill="#fff" stroke="#7e4fc0" stroke-width="1.6"/>
<path d="M12.8 5.5L8.3 12H11.3L9.8 16.5L14.3 10H11.3Z" fill="#7e4fc0"/>
<clipPath id="fc"><circle cx="11.3" cy="35.5" r="8"/></clipPath>
<circle cx="11.3" cy="35.5" r="9.4" fill="#fff" stroke="#d8344a" stroke-width="1.6"/>
<g clip-path="url(#fc)">
<rect x="2" y="26" width="20" height="20" fill="#fff"/>
<rect x="2" y="30" width="20" height="2.2" fill="#e0454f"/>
<rect x="2" y="34.4" width="20" height="2.2" fill="#e0454f"/>
<rect x="2" y="38.8" width="20" height="2.4" fill="#e0454f"/>
<rect x="2" y="26" width="10.5" height="9" fill="#3f6fd8"/>
</g></svg>
<svg class="abs" style="left:1472px;top:809px" width="17" height="16" viewBox="0 0 17 16"><path d="M4.6 1.5H12.4L16 8L12.4 14.5H4.6L1 8Z" fill="none" stroke="#131722" stroke-width="1.2"/><circle cx="8.5" cy="8" r="2.3" fill="none" stroke="#131722" stroke-width="1.2"/></svg>
<div class="t" style="left:15.2px;top:843.7px;font-size:13px;">1Ngày</div>
<div class="t" style="left:66.5px;top:843.7px;font-size:13px;">5Ngày</div>
<div class="t" style="left:119.5px;top:843.7px;font-size:13px;">1Tháng</div>
<div class="t" style="left:178.4px;top:843.7px;font-size:13px;">3Tháng</div>
<div class="t" style="left:237.9px;top:843.7px;font-size:13px;">6 tháng</div>
<div class="t" style="left:297.3px;top:843.7px;font-size:13px;">YTD</div>
<div class="t" style="left:337.0px;top:843.7px;font-size:13px;">1Năm</div>
<div class="t" style="left:386.7px;top:843.7px;font-size:13px;">5Năm</div>
<div class="t" style="left:435.5px;top:843.7px;font-size:13px;">Tất cả</div>
<div class="abs" style="left:484px;top:839px;width:1px;height:23px;background:#e0e3eb"></div>
<svg class="abs" style="left:497px;top:838px" width="22" height="22" viewBox="0 0 22 22" fill="none" stroke="#131722" stroke-width="1.2"><path d="M5 8V5.5h14V19H9.5"/><path d="M5 9H19"/><path d="M9 3.5V7M15 3.5V7"/><path d="M2 15H9M6.5 12.5L9 15L6.5 17.5"/></svg>
<div class="t" style="right:332.2px;top:843.5px;font-size:13px;">09:41:16 UTC+7</div>
<div class="abs" style="left:1818px;top:0;width:1px;height:879px;background:#ebebed"></div>
<div class="t" style="left:1534.6px;top:16.9px;font-size:14px;font-weight:700">Danh sách theo dõi</div>
<svg class="abs" style="left:1670px;top:20px" width="11" height="8" viewBox="0 0 11 8"><path d="M1.5 2L5.5 6L9.5 2" fill="none" stroke="#131722" stroke-width="1.1"/></svg>
<svg class="abs" style="left:1707px;top:16px" width="17" height="17" viewBox="0 0 17 17"><path d="M8.5 1V16M1 8.5H16" stroke="#131722" stroke-width="1.3"/></svg>
<svg class="abs" style="left:1743px;top:14px" width="22" height="20" viewBox="0 0 22 20" fill="none" stroke="#131722" stroke-width="1.2"><path d="M4 8V2H20V18H10"/><path d="M4 7H20M4 12.5H20M9.5 2V18M15 2V18"/><path d="M2 18L7 13M3.5 13H7V16.5"/></svg>
<svg class="abs" style="left:1780px;top:19px" width="23" height="10" viewBox="0 0 23 10" fill="none" stroke="#131722" stroke-width="1.3"><circle cx="4" cy="5" r="2.6"/><circle cx="11.5" cy="5" r="2.6"/><circle cx="19" cy="5" r="2.6"/></svg>
<svg class="abs" style="left:1518px;top:55px" width="12" height="13" viewBox="0 0 12 13"><path d="M0 0H11L7.5 6.5L11 13H0Z" fill="#dfe1e6"/></svg>
<div class="t" style="left:1534.0px;top:56.3px;font-size:13px;color:#787b86">Mã</div>
<div class="t" style="right:163.0px;top:55.9px;font-size:13.5px;color:#787b86;letter-spacing:0.3px">Lần cuối</div>
<div class="t" style="right:94.6px;top:55.9px;font-size:13.5px;color:#787b86;letter-spacing:0.4px">Th.đổi</div>
<div class="t" style="right:34.3px;top:56.3px;font-size:13px;color:#787b86">%Thđổ</div>
<div class="abs" style="left:1522px;top:75px;width:294px;height:1px;background:#eff0f2"></div>
<svg class="abs" style="left:1533.8px;top:88.6px" width="18" height="18" viewBox="0 0 18 18"><circle cx="9" cy="9" r="9" fill="#1b1c80"/><circle cx="9" cy="9" r="4.4" fill="none" stroke="#fff" stroke-width="1.9"/><path d="M6.2 9H11.8" stroke="#fff" stroke-width="1.4"/><path d="M11.5 4.3L13.9 6.2" stroke="#1b1c80" stroke-width="1.6"/></svg>
<div class="t" style="left:1558.5px;top:91.0px;font-size:14px;">VNIN</div>
<div class="t" style="left:1596.0px;top:87.8px;font-size:9px;color:#f0b429;font-weight:700">D</div>
<div class="t" style="right:161.7px;top:91.0px;font-size:14px;">1,775.8<span style="color:#1ca38d">8</span></div>
<div class="t" style="right:94.2px;top:91.0px;font-size:14px;"><span style="color:#1ca38d">24.85</span></div>
<div class="t" style="right:34.4px;top:91.0px;font-size:14px;"><span style="color:#1ca38d">1.42%</span></div>
<div class="abs" style="left:1522px;top:112.6px;width:294px;height:1px;background:#f5f6f8"></div>
<svg class="abs" style="left:1533.8px;top:118.6px" width="18" height="18" viewBox="0 0 18 18"><circle cx="9" cy="9" r="9" fill="#b0383a"/><path d="M6 5H12.5L5.5 13H12Z" stroke="#fff" stroke-width="1.2" fill="none" stroke-linejoin="round"/></svg>
<div class="t" style="left:1558.5px;top:121.0px;font-size:14px;">HNXI</div>
<div class="t" style="left:1596.0px;top:117.8px;font-size:9px;color:#f0b429;font-weight:700">D</div>
<div class="t" style="right:161.7px;top:121.0px;font-size:14px;">257.<span style="color:#1ca38d">70</span></div>
<div class="t" style="right:94.2px;top:121.0px;font-size:14px;"><span style="color:#1ca38d">0.47</span></div>
<div class="t" style="right:34.4px;top:121.0px;font-size:14px;"><span style="color:#1ca38d">0.18%</span></div>
<div class="abs" style="left:1522px;top:142.6px;width:294px;height:1px;background:#f5f6f8"></div>
<svg class="abs" style="left:1533.8px;top:148.6px" width="18" height="18" viewBox="0 0 18 18"><circle cx="9" cy="9" r="9" fill="#c8153a"/><text x="9" y="12" text-anchor="middle" font-family="Liberation Sans,sans-serif" font-size="8.4" font-weight="700" fill="#fff" letter-spacing="-0.3">500</text></svg>
<div class="t" style="left:1558.5px;top:151.0px;font-size:14px;">SPX</div>
<div class="abs" style="left:1589.7px;top:154.6px;width:6px;height:6px;border-radius:50%;background:#b2b5be"></div>
<div class="t" style="right:161.7px;top:151.0px;font-size:14px;">6,878.49</div>
<div class="t" style="right:94.2px;top:151.0px;font-size:14px;"><span style="color:#1ca38d">43.99</span></div>
<div class="t" style="right:34.4px;top:151.0px;font-size:14px;"><span style="color:#1ca38d">0.64%</span></div>
<div class="abs" style="left:1522px;top:172.6px;width:294px;height:1px;background:#f5f6f8"></div>
<svg class="abs" style="left:1533.8px;top:178.6px" width="18" height="18" viewBox="0 0 18 18"><circle cx="9" cy="9" r="9" fill="#1f4e99"/><text x="9" y="12" text-anchor="middle" font-family="Liberation Sans,sans-serif" font-size="8.4" font-weight="700" fill="#fff" letter-spacing="-0.3">100</text></svg>
<div class="t" style="left:1558.5px;top:181.0px;font-size:14px;">NDX</div>
<div class="abs" style="left:1592.0px;top:184.6px;width:6px;height:6px;border-radius:50%;background:#b2b5be"></div>
<div class="t" style="right:161.7px;top:181.0px;font-size:14px;">25,461.70</div>
<div class="t" style="right:94.2px;top:181.0px;font-size:14px;"><span style="color:#1ca38d">115.52</span></div>
<div class="t" style="right:34.4px;top:181.0px;font-size:14px;"><span style="color:#1ca38d">0.46%</span></div>
<div class="abs" style="left:1522px;top:202.6px;width:294px;height:1px;background:#f5f6f8"></div>
<svg class="abs" style="left:1533.8px;top:208.6px" width="18" height="18" viewBox="0 0 18 18"><clipPath id="vc"><circle cx="9" cy="9" r="9"/></clipPath><g clip-path="url(#vc)"><rect width="18" height="18" fill="#fff"/><rect y="0" width="18" height="2.2" fill="#e0454f"/><rect y="4.4" width="18" height="2.2" fill="#e0454f"/><rect y="8.8" width="18" height="2.2" fill="#e0454f"/><rect y="13.2" width="18" height="2.2" fill="#e0454f"/><rect y="17" width="18" height="1" fill="#e0454f"/><rect width="10" height="9.6" fill="#3d6fd6"/><g fill="#fff"><circle cx="2.5" cy="2.5" r="0.7"/><circle cx="5" cy="2.5" r="0.7"/><circle cx="7.5" cy="2.5" r="0.7"/><circle cx="2.5" cy="5" r="0.7"/><circle cx="5" cy="5" r="0.7"/><circle cx="7.5" cy="5" r="0.7"/><circle cx="2.5" cy="7.5" r="0.7"/><circle cx="5" cy="7.5" r="0.7"/><circle cx="7.5" cy="7.5" r="0.7"/></g></g></svg>
<div class="t" style="left:1558.5px;top:211.0px;font-size:14px;">VIX</div>
<div class="abs" style="left:1585.0px;top:214.6px;width:6px;height:6px;border-radius:50%;background:#b2b5be"></div>
<div class="t" style="right:161.7px;top:211.0px;font-size:14px;">14.09</div>
<div class="t" style="right:94.2px;top:211.0px;font-size:14px;"><span style="color:#e4506a">−0.82</span></div>
<div class="t" style="right:34.4px;top:211.0px;font-size:14px;"><span style="color:#e4506a">−5.50%</span></div>
<div class="abs" style="left:1522px;top:232.6px;width:294px;height:1px;background:#f5f6f8"></div>
<svg class="abs" style="left:1538px;top:249.5px" width="10" height="7" viewBox="0 0 10 7"><path d="M1 1.5L5 5.5L9 1.5" fill="none" stroke="#787b86" stroke-width="1.1"/></svg>
<div class="t" style="left:1560.0px;top:248.8px;font-size:11px;color:#6a6d78;letter-spacing:0.1px">TIỀN ĐIỆN TỬ</div>
<svg class="abs" style="left:1533.8px;top:274.7px" width="18" height="18" viewBox="0 0 18 18"><circle cx="9" cy="9" r="9" fill="#f7931a"/><text x="9" y="12.5" text-anchor="middle" font-family="Liberation Sans,sans-serif" font-size="10" font-weight="700" fill="#fff">₿</text></svg>
<div class="abs" style="left:1558.5px;top:273.7px;width:45px;height:20px;overflow:hidden"><div class="t" style="left:0.0px;top:3.4px;font-size:14px;">BTCUSD</div></div>
<div class="t" style="right:161.7px;top:277.1px;font-size:14px;">88,2<span style="color:#e4506a">29</span></div>
<div class="t" style="right:94.2px;top:277.1px;font-size:14px;"><span style="color:#e4506a">−310</span></div>
<div class="t" style="right:34.4px;top:277.1px;font-size:14px;"><span style="color:#e4506a">−0.35%</span></div>
<div class="abs" style="left:1522px;top:298.7px;width:294px;height:1px;background:#f5f6f8"></div>
<svg class="abs" style="left:1533.8px;top:304.7px" width="18" height="18" viewBox="0 0 18 18"><circle cx="12.5" cy="5.5" r="5.5" fill="#1fa39a"/><circle cx="12.5" cy="5.5" r="2.3" fill="#fff"/><circle cx="6.5" cy="12" r="6.2" fill="#f7931a" stroke="#fff" stroke-width="1"/><text x="6.5" y="14.8" text-anchor="middle" font-family="Liberation Sans,sans-serif" font-size="7" font-weight="700" fill="#fff">₿</text></svg>
<div class="abs" style="left:1558.5px;top:303.7px;width:45px;height:20px;overflow:hidden"><div class="t" style="left:0.0px;top:3.4px;font-size:14px;">BTCUSD</div></div>
<div class="t" style="right:161.7px;top:307.1px;font-size:14px;">88,<span style="color:#e4506a">294.33</span></div>
<div class="t" style="right:94.2px;top:307.1px;font-size:14px;"><span style="color:#e4506a">−326.46</span></div>
<div class="t" style="right:34.4px;top:307.1px;font-size:14px;"><span style="color:#e4506a">−0.37%</span></div>
<div class="abs" style="left:1522px;top:328.7px;width:294px;height:1px;background:#f5f6f8"></div>
<svg class="abs" style="left:1533.8px;top:334.8px" width="18" height="18" viewBox="0 0 18 18"><circle cx="9" cy="9" r="9" fill="#3c3f91"/><path d="M9 3L12.5 9L9 11L5.5 9Z" fill="#c9cdf5"/><path d="M9 12L12.5 10L9 15L5.5 10Z" fill="#fff"/></svg>
<div class="abs" style="left:1558.5px;top:333.8px;width:45px;height:20px;overflow:hidden"><div class="t" style="left:0.0px;top:3.4px;font-size:14px;">ETHUSD</div></div>
<div class="t" style="right:161.7px;top:337.2px;font-size:14px;">2,99<span style="color:#e4506a">0.1</span></div>
<div class="t" style="right:94.2px;top:337.2px;font-size:14px;"><span style="color:#e4506a">−16.5</span></div>
<div class="t" style="right:34.4px;top:337.2px;font-size:14px;"><span style="color:#e4506a">−0.55%</span></div>
<div class="abs" style="left:1522px;top:358.8px;width:294px;height:1px;background:#f5f6f8"></div>
<svg class="abs" style="left:1538px;top:376.5px" width="10" height="7" viewBox="0 0 10 7"><path d="M1 1.5L5 5.5L9 1.5" fill="none" stroke="#787b86" stroke-width="1.1"/></svg>
<div class="t" style="left:1560.0px;top:375.8px;font-size:11px;color:#6a6d78;letter-spacing:0.1px">CỔ PHIẾU</div>
<svg class="abs" style="left:1533.8px;top:401.0px" width="18" height="18" viewBox="0 0 18 18"><path d="M2 12L9 5.5L16 12L13.5 12L9 8.5L4.5 12Z" fill="#2d5aa8"/><path d="M6 12.5L9 10L12 12.5Z" fill="#2d5aa8"/></svg>
<div class="t" style="left:1558.5px;top:403.4px;font-size:14px;">HPG</div>
<div class="t" style="left:1592.0px;top:400.2px;font-size:9px;color:#f0b429;font-weight:700">D</div>
<div class="t" style="right:161.7px;top:403.4px;font-size:14px;">27,<span style="color:#e4506a">050</span></div>
<div class="t" style="right:94.2px;top:403.4px;font-size:14px;"><span style="color:#1ca38d">150</span></div>
<div class="t" style="right:34.4px;top:403.4px;font-size:14px;"><span style="color:#1ca38d">0.56%</span></div>
<div class="abs" style="left:1522px;top:425px;width:294px;height:1px;background:#f5f6f8"></div>
<svg class="abs" style="left:1533.8px;top:431.0px" width="18" height="18" viewBox="0 0 18 18"><path d="M3.5 5H14.5L9 14Z" fill="#0f7a3d"/><path d="M6.5 6.8H11.5L9 11Z" fill="#fff"/></svg>
<div class="t" style="left:1558.5px;top:433.4px;font-size:14px;">VCB</div>
<div class="t" style="left:1592.0px;top:430.2px;font-size:9px;color:#f0b429;font-weight:700">D</div>
<div class="t" style="right:161.7px;top:433.4px;font-size:14px;">58,<span style="color:#e4506a">000</span></div>
<div class="t" style="right:94.2px;top:433.4px;font-size:14px;"><span style="color:#1ca38d">200</span></div>
<div class="t" style="right:34.4px;top:433.4px;font-size:14px;"><span style="color:#1ca38d">0.35%</span></div>
<div class="abs" style="left:1522px;top:455px;width:294px;height:1px;background:#f5f6f8"></div>
<div class="abs" style="left:1518px;top:454px;width:300px;height:4px;background:#e9eaed"></div>
<svg class="abs" style="left:1534.1px;top:470.2px" width="24" height="24" viewBox="0 0 24 24">
<circle cx="12" cy="12" r="12" fill="#b2b5be"/>
<path d="M9.2 8.2h5.6l1.3 3.6H7.9z M4.6 13h6.4l1 3.6H3.6z M13 13h6.4l1 3.6H12z" fill="#fff"/>
</svg>
<div class="t" style="left:1566.7px;top:475.1px;font-size:14px;font-weight:700;letter-spacing:0.1px">XAGUSD</div>
<svg class="abs" style="left:1705px;top:472px" width="20" height="20" viewBox="0 0 20 20" fill="none" stroke="#131722" stroke-width="1.2"><rect x="1" y="1" width="7.5" height="7.5" rx="2"/><rect x="11.5" y="1" width="7.5" height="7.5" rx="2"/><rect x="1" y="11.5" width="7.5" height="7.5" rx="2"/><rect x="11.5" y="11.5" width="7.5" height="7.5" rx="2"/></svg>
<svg class="abs" style="left:1743px;top:471px" width="22" height="21" viewBox="0 0 22 21" fill="none" stroke="#131722" stroke-width="1.2"><path d="M9 3.5H3.5Q1.5 3.5 1.5 5.5V17.5Q1.5 19.5 3.5 19.5H15.5Q17.5 19.5 17.5 17.5V12"/><path d="M8 14L8.7 10.5L17 2.2Q18 1.2 19 2.2L19.8 3Q20.8 4 19.8 5L11.5 13.3Z"/></svg>
<svg class="abs" style="left:1780px;top:477px" width="23" height="10" viewBox="0 0 23 10" fill="none" stroke="#131722" stroke-width="1.3"><circle cx="4" cy="5" r="2.6"/><circle cx="11.5" cy="5" r="2.6"/><circle cx="19" cy="5" r="2.6"/></svg>
<div class="t" style="left:1534.2px;top:510.8px;font-size:12px;">Bạc / Đô la Mỹ</div>
<svg class="abs" style="left:1616px;top:510px" width="14" height="14" viewBox="0 0 14 14" fill="none" stroke="#6a6d78" stroke-width="1.1"><path d="M6 2H2V12H12V8"/><path d="M8 1.5H12.5V6M12.5 1.5L6.5 7.5"/></svg>
<div class="abs" style="left:1635px;top:516px;width:3px;height:3px;border-radius:50%;background:#9598a1"></div>
<div class="t" style="left:1644.7px;top:510.8px;font-size:12px;">OANDA</div>
<div class="t" style="left:1534.2px;top:531.3px;font-size:12px;color:#9598a1">Hàng hóa</div>
<div class="abs" style="left:1592px;top:536px;width:3px;height:3px;border-radius:50%;background:#b2b5be"></div>
<div class="t" style="left:1601.7px;top:531.3px;font-size:12px;color:#9598a1">Cfd</div>
<div class="t" style="left:1535.0px;top:565.1px;font-size:28px;font-weight:700;color:#d0314a;letter-spacing:0.55px">69.6471</div>
<div class="t" style="left:1643.2px;top:567.3px;font-size:19.5px;font-weight:700;color:#d0314a">0</div>
<div class="t" style="left:1659.6px;top:580.2px;font-size:10.2px;letter-spacing:-0.4px">USD</div>
<div class="t" style="left:1535.3px;top:601.2px;font-size:15px;font-weight:700;color:#1b8c75;letter-spacing:0.65px">+0.58705&nbsp;&nbsp;+0.85%</div>
<div class="abs" style="left:1539px;top:627.3px;width:8px;height:8px;border-radius:50%;background:#22ab94"></div>
<div class="t" style="left:1552.6px;top:624.3px;font-size:12.6px;color:#22ab94">Thị trường Mở</div>
<div class="abs" style="left:1534px;top:652px;width:267.5px;height:40px;border-radius:8px;background:#e9e5f6"></div>
<svg class="abs" style="left:1543px;top:665px" width="12" height="14" viewBox="0 0 12 14"><path d="M8 1L3 7.5H6.3L4 13L9.2 6.3H5.9Z" fill="#7b57d6"/></svg>
<div class="t" style="left:1562.9px;top:658.1px;font-size:12px;">18 giờ trước&nbsp; <span style="color:#b2b5be">•</span>&nbsp; Dự báo giá bạc:</div>
<div class="t" style="left:1562.9px;top:673.6px;font-size:12px;">XAG/USD vẫn tiếp tục tăng gần mức...</div>
<svg class="abs" style="left:1783px;top:666px" width="8" height="12" viewBox="0 0 8 12"><path d="M2 1.5L6.2 6L2 10.5" fill="none" stroke="#131722" stroke-width="1.2"/></svg>
<div class="t" style="left:1534.8px;top:717.7px;font-size:13px;font-weight:700">Các chỉ số có tính thời vụ</div>
<svg class="abs" style="left:1525px;top:735px" width="290" height="144" viewBox="1525 735 290 144">
<line x1="1575.5" x2="1575.5" y1="740" y2="879" stroke="#c9cbd1" stroke-width="1" stroke-dasharray="3 3"/>
<line x1="1639.5" x2="1639.5" y1="740" y2="879" stroke="#c9cbd1" stroke-width="1" stroke-dasharray="3 3"/>
<line x1="1703.5" x2="1703.5" y1="740" y2="879" stroke="#c9cbd1" stroke-width="1" stroke-dasharray="3 3"/>
<line x1="1766.5" x2="1766.5" y1="740" y2="879" stroke="#c9cbd1" stroke-width="1" stroke-dasharray="3 3"/>
<line x1="1534" x2="1802" y1="861.5" y2="861.5" stroke="#a3a6af" stroke-width="1"/>
<polyline points="1534.0,860.3 1535.9,861.4 1537.8,861.7 1539.7,861.2 1541.4,860.6 1543.0,861.0 1544.7,862.0 1546.3,863.2 1547.9,863.6 1549.6,864.1 1551.2,864.4 1552.9,864.9 1554.5,866.3 1556.1,867.1 1557.8,867.7 1559.4,868.4 1561.0,868.1 1562.7,869.1 1564.3,869.5 1566.0,870.2 1567.6,870.9 1569.2,871.6 1570.9,871.0 1572.5,872.6 1574.2,872.6 1575.8,873.1 1577.4,873.5 1579.1,872.1 1580.7,871.0 1582.3,868.9 1584.0,867.7 1585.6,865.2 1587.3,864.4 1588.9,862.9 1590.5,863.1 1592.2,862.4 1593.8,861.5 1595.5,861.2 1597.1,860.0 1598.7,859.2 1600.4,858.8 1602.0,857.1 1603.6,857.0 1605.3,856.9 1606.9,856.6 1608.6,855.9 1610.2,856.3 1612.3,855.7 1614.3,856.9 1616.3,856.7 1618.4,857.1 1620.0,856.7 1621.7,857.6 1623.3,857.9 1625.0,860.0 1626.6,860.3 1628.2,861.5 1629.9,862.0 1631.5,862.6 1633.1,864.4 1634.8,864.7 1636.4,863.6 1638.1,863.3 1639.7,862.0 1641.3,862.0 1643.0,861.2 1644.6,861.7 1646.3,860.8 1647.9,861.9 1649.5,862.0 1651.2,863.7 1652.8,864.4 1654.4,864.6 1656.1,865.3 1657.7,866.1 1659.4,865.3 1661.0,865.7 1662.6,864.4 1664.3,862.2 1665.9,861.2 1667.6,860.0 1669.2,857.9 1670.8,858.4 1672.5,858.2 1674.1,858.4 1675.7,858.7 1677.4,859.2 1679.0,859.5 1680.7,860.3 1682.3,861.2 1683.9,863.2 1685.6,863.6 1687.2,864.4 1688.9,865.3 1690.5,865.5 1692.1,864.4 1693.8,863.0 1695.4,862.0 1697.9,859.5 1700.3,858.7 1702.8,861.2 1705.2,863.6 1707.3,864.7 1709.3,864.4 1711.4,865.2 1713.4,864.4 1715.5,864.5 1717.5,864.8 1719.6,865.5 1721.6,866.1 1724.1,868.5 1726.5,870.2 1728.6,869.7 1730.6,867.7 1732.7,867.3 1734.7,866.1 1736.4,865.8 1738.0,865.0 1739.6,865.3 1741.3,864.7 1742.9,865.1 1744.6,864.4 1746.6,864.3 1748.7,865.3 1750.7,866.4 1752.8,866.1 1754.4,864.4 1756.0,863.6 1757.7,863.1 1759.3,861.2 1760.9,860.2 1762.6,859.9 1764.2,859.3 1765.9,857.1 1768.3,861.2 1770.8,864.4 1772.4,863.6 1774.1,862.0 1775.7,861.8 1777.3,860.8 1779.0,860.6 1780.6,860.3 1782.3,860.6 1783.9,860.8" fill="none" stroke="#f3a93c" stroke-width="1.1" stroke-linejoin="round"/>
<polyline points="1534.0,861.2 1535.9,861.2 1537.8,862.3 1539.7,862.8 1541.4,863.1 1543.0,864.1 1544.7,864.4 1546.3,864.3 1547.9,862.8 1549.6,863.3 1551.2,862.2 1552.9,863.6 1554.5,862.8 1556.1,863.1 1557.8,863.9 1559.4,866.3 1561.0,866.1 1562.7,865.2 1564.3,865.1 1566.0,863.6 1567.6,863.9 1569.2,864.4 1570.9,864.4 1572.5,862.9 1574.2,862.8 1575.8,861.2 1577.4,859.7 1579.1,857.1 1581.1,856.7 1583.2,856.3 1585.2,856.3 1587.3,855.4 1588.9,856.2 1590.5,856.3 1592.2,855.8 1593.8,857.1 1595.9,854.3 1597.9,850.5 1600.0,848.7 1602.0,846.4 1603.6,844.9 1605.3,843.3 1606.9,843.1 1608.6,845.5 1610.2,846.4 1611.8,848.0 1613.5,849.7 1615.1,851.0 1616.8,852.1 1618.4,852.2 1620.0,851.2 1621.7,850.3 1623.3,848.1 1625.0,842.9 1626.6,838.8 1628.2,833.3 1629.9,832.8 1631.5,832.5 1633.1,833.0 1634.8,831.7 1636.4,834.1 1638.1,834.1 1639.7,836.6 1641.3,837.5 1643.0,839.9 1644.6,840.1 1646.3,841.5 1647.9,841.9 1649.5,840.3 1651.2,839.9 1652.8,840.1 1654.4,839.5 1656.1,839.9 1657.7,838.7 1659.4,837.4 1661.0,836.0 1662.6,835.0 1664.3,834.8 1665.9,835.3 1667.6,836.1 1669.2,836.6 1670.8,838.4 1672.5,839.9 1674.1,842.3 1675.7,843.1 1677.8,844.3 1679.8,844.8 1681.9,847.3 1683.9,848.1 1686.0,846.7 1688.0,844.0 1690.1,842.9 1692.1,839.9 1693.8,839.8 1695.4,839.0 1697.0,838.8 1698.7,839.9 1700.3,842.2 1702.0,843.1 1703.6,844.9 1705.2,844.8 1706.9,843.1 1708.5,839.9 1710.2,837.5 1711.8,835.0 1713.4,834.6 1715.1,833.3 1716.7,831.9 1718.3,831.7 1720.0,832.9 1721.6,832.9 1723.3,833.3 1724.9,833.2 1726.5,833.0 1728.2,834.1 1729.8,833.6 1731.5,831.7 1733.1,831.0 1734.7,828.4 1736.4,824.3 1738.0,821.8 1740.5,823.5 1742.9,824.3 1744.6,827.4 1746.2,829.2 1747.8,830.4 1749.5,831.2 1751.1,833.3 1752.8,833.7 1754.4,835.0 1756.0,835.9 1757.7,835.8 1759.3,836.3 1760.9,835.3 1762.6,835.0 1764.2,836.6 1765.9,835.6 1767.5,834.1 1769.1,832.4 1770.8,832.5 1772.4,835.0 1774.1,836.6 1775.7,837.9 1777.3,839.9 1779.4,840.6 1781.4,839.9 1783.5,842.1 1785.5,842.3" fill="none" stroke="#2eb872" stroke-width="1.1" stroke-linejoin="round"/>
<polyline points="1534.0,860.3 1536.1,859.1 1538.1,858.7 1539.7,857.7 1541.4,857.9 1543.0,857.8 1544.7,857.6 1546.3,858.2 1547.9,857.1 1549.6,857.3 1551.2,857.1 1552.9,856.6 1554.5,855.4 1556.1,853.8 1557.8,854.1 1559.4,853.0 1561.0,853.3 1562.7,852.8 1564.3,851.9 1566.0,851.7 1568.0,852.2 1570.1,853.8 1572.1,854.4 1574.2,856.3 1575.8,853.7 1577.4,852.2 1579.1,851.7 1580.7,850.5 1582.3,848.9 1584.4,850.2 1586.4,850.5 1588.5,850.6 1590.5,849.7 1592.2,848.4 1593.8,848.1 1595.8,854.6 1597.1,861.2 1599.6,856.3 1602.0,853.0 1604.1,852.5 1606.1,852.6 1608.2,852.2 1610.2,851.3 1612.3,852.7 1614.3,853.3 1616.8,852.2 1618.4,852.8 1620.0,853.0 1621.7,851.9 1623.3,852.6 1625.0,852.5 1626.6,852.3 1628.2,851.7 1629.9,851.1 1631.5,850.5 1633.6,850.2 1635.6,851.0 1638.1,849.7 1640.5,846.4 1643.0,841.5 1644.6,841.7 1646.3,841.4 1647.9,842.3 1649.5,843.0 1651.2,842.9 1652.8,842.3 1654.9,842.8 1656.9,843.1 1659.0,842.0 1661.0,841.5 1662.6,840.8 1664.3,838.9 1665.9,837.4 1668.0,837.6 1670.0,836.6 1672.1,835.9 1674.1,834.1 1675.7,835.2 1677.4,836.3 1679.0,837.5 1680.7,839.0 1682.3,838.4 1683.9,837.4 1685.6,836.9 1687.2,836.6 1689.3,836.2 1691.3,836.9 1693.4,835.8 1695.4,835.3 1697.0,834.4 1698.7,832.5 1700.3,830.1 1702.0,829.2 1703.6,827.9 1705.2,828.3 1706.9,827.6 1708.5,826.4 1710.2,826.0 1711.8,825.1 1713.4,824.3 1715.1,822.0 1716.7,820.2 1718.3,818.5 1720.0,815.3 1722.0,813.2 1724.1,812.0 1726.1,809.4 1728.2,807.1 1731.1,799.7 1733.9,791.5 1736.0,798.1 1738.0,802.2 1740.5,807.9 1742.1,810.7 1744.6,809.6 1747.0,810.0 1749.8,803.8 1752.8,794.0 1754.4,800.5 1756.0,800.5 1757.7,801.4 1759.3,801.2 1760.9,800.5 1763.4,789.1 1765.9,780.1 1767.5,779.7 1769.1,779.8 1770.8,780.1 1772.4,771.9 1774.1,765.3 1776.5,759.6 1778.2,754.7 1780.0,751.6 1781.9,747.8" fill="none" stroke="#2f6fe4" stroke-width="3" stroke-linejoin="round" stroke-linecap="round"/>
<circle cx="1781.9" cy="747.8" r="4.3" fill="#2f6fe4"/>
</svg>
<div class="abs" style="left:1823px;top:6px;width:20px;height:34px;border-radius:6px;background:#eff0f3"></div>
<svg class="abs" style="left:1819px;top:0" width="17" height="879" viewBox="1819 0 17 879" fill="none" stroke="#131722" stroke-width="1.3"><path d="M1840 13.5H1832.5V35.5L1840 33.5"/><circle cx="1839.5" cy="69" r="9"/><path d="M1829.5 62L1834 57.5"/><path d="M1840 104.5L1827.5 113L1840 121.5"/><path d="M1831.5 172V151H1840M1831.5 172L1836 167H1840"/><circle cx="1839" cy="601" r="10"/><circle cx="1839" cy="601" r="6"/><path d="M1829.5 657.5L1838 643L1846 657.5Z"/><path d="M1831 684H1840M1831 684V702H1840M1834 680V686"/><path d="M1833 726H1840M1833 733H1840M1833 740H1840"/><circle cx="1829.5" cy="747" r="1.5"/><path d="M1831 791Q1831 777 1840 776M1829 791H1840M1831 795H1840"/></svg>
<div class="abs" style="left:1825px;top:815px;width:31px;height:31px;border-radius:50%;background:#1e222d"></div>
<svg class="abs" style="left:1819px;top:815px" width="17" height="31" viewBox="0 0 17 31"><path d="M11 9H17M11 15.5H17M11 22H17" stroke="#fff" stroke-width="2.4"/></svg>
<div class="abs" style="left:1819px;top:858px;width:17px;height:1px;background:#e0e3eb"></div>
<svg class="abs" style="left:1819px;top:866px" width="17" height="13" viewBox="0 0 17 13"><path d="M8 13Q8 6 17 6" fill="none" stroke="#131722" stroke-width="1.3"/></svg>
</div>
</body></html>
